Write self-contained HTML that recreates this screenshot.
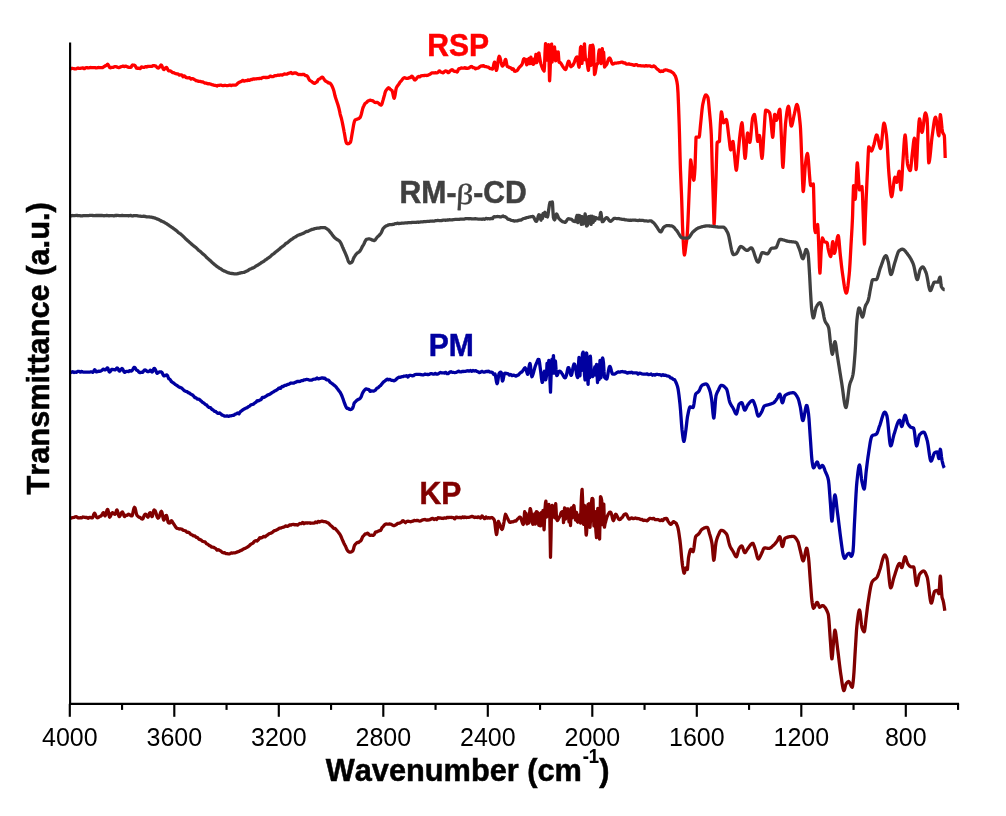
<!DOCTYPE html>
<html><head><meta charset="utf-8"><title>FTIR</title>
<style>
html,body{margin:0;padding:0;background:#fff;}
body{width:1006px;height:816px;overflow:hidden;font-family:"Liberation Sans",sans-serif;}
svg{display:block;}
text{font-family:"Liberation Sans",sans-serif;font-kerning:none;}
.c{fill:none;stroke-width:3.3;stroke-linejoin:round;stroke-linecap:butt;}
.ax line{stroke:#000;stroke-width:2.15;}
.tl text{font-size:25px;fill:#000;}
.b{font-weight:bold;}
.b text, text.b{stroke-width:0.5;}
</style></head><body>
<svg style="will-change:transform" width="1006" height="816" viewBox="0 0 1006 816">
<rect width="1006" height="816" fill="#fff"/>
<path class="c" stroke="#ff0000" d="M70.0 69.3 L70.5 68.9 L71.0 68.6 L71.5 68.4 L72.0 68.4 L72.5 68.4 L73.0 68.5 L73.5 68.6 L74.0 68.7 L74.5 68.8 L75.0 68.9 L75.5 68.9 L76.0 68.8 L76.5 68.7 L77.0 68.4 L77.5 68.1 L78.0 68.0 L78.5 68.2 L79.0 68.4 L79.5 68.4 L80.0 68.4 L80.5 68.3 L81.0 68.2 L81.5 68.1 L82.0 68.0 L82.5 68.0 L82.9 67.9 L83.0 67.9 L83.5 68.3 L84.0 68.6 L84.5 68.7 L85.0 68.3 L85.5 67.9 L86.0 67.8 L86.5 67.6 L87.0 67.6 L87.5 67.8 L88.0 67.9 L88.5 67.9 L89.0 67.8 L89.5 67.7 L90.0 67.6 L90.5 67.5 L91.0 67.5 L91.5 67.6 L92.0 67.7 L92.5 67.7 L93.0 67.6 L93.5 67.6 L93.6 67.6 L94.0 67.6 L94.5 67.6 L95.0 67.6 L95.5 67.8 L96.0 67.9 L96.5 67.8 L97.0 67.8 L97.5 67.7 L98.0 67.6 L98.5 67.5 L99.0 67.5 L99.5 67.6 L100.0 67.6 L100.5 67.6 L100.8 67.6 L101.0 67.6 L101.5 67.6 L102.0 67.7 L102.5 67.7 L103.0 67.3 L103.5 67.0 L104.0 66.7 L104.4 66.4 L104.5 66.4 L105.0 66.0 L105.5 65.7 L106.0 65.6 L106.5 65.3 L107.0 64.7 L107.5 64.4 L107.6 64.3 L108.0 64.5 L108.5 65.3 L109.0 66.2 L109.5 67.3 L109.7 67.5 L110.0 67.7 L110.5 67.8 L111.0 67.6 L111.5 67.3 L112.0 67.4 L112.5 67.4 L113.0 67.4 L113.5 67.2 L114.0 66.9 L114.5 66.8 L115.0 66.6 L115.1 66.6 L115.5 66.6 L116.0 66.7 L116.5 66.8 L117.0 67.0 L117.5 67.3 L118.0 67.5 L118.5 67.6 L118.7 67.6 L119.0 67.6 L119.5 67.5 L120.0 67.2 L120.5 66.9 L121.0 66.7 L121.5 66.6 L122.0 66.5 L122.3 66.4 L122.5 66.3 L123.0 66.1 L123.5 66.1 L124.0 66.4 L124.5 66.6 L125.0 66.5 L125.5 66.3 L126.0 66.1 L126.5 66.4 L127.0 66.7 L127.5 66.9 L128.0 67.1 L128.5 67.3 L129.0 67.3 L129.4 67.4 L129.5 67.4 L130.0 67.4 L130.5 67.3 L131.0 67.2 L131.5 66.5 L132.0 65.6 L132.5 65.0 L133.0 65.1 L133.5 65.2 L134.0 65.2 L134.5 65.2 L135.0 65.6 L135.5 66.4 L136.0 67.3 L136.5 68.1 L137.0 68.3 L137.2 68.3 L137.5 68.1 L138.0 68.1 L138.5 68.3 L139.0 68.4 L139.5 68.5 L140.0 68.6 L140.5 68.2 L141.0 67.5 L141.5 66.9 L142.0 67.0 L142.5 67.2 L143.0 67.3 L143.5 67.3 L143.7 67.4 L144.0 67.4 L144.5 67.2 L145.0 66.9 L145.5 66.6 L146.0 66.8 L146.5 67.0 L147.0 66.9 L147.5 66.6 L148.0 66.4 L148.5 66.4 L149.0 66.4 L149.5 66.4 L150.0 66.4 L150.5 66.3 L150.9 66.4 L151.0 66.4 L151.5 66.4 L152.0 66.3 L152.5 66.0 L153.0 65.7 L153.5 65.6 L154.0 65.6 L154.2 65.7 L154.5 65.8 L155.0 65.8 L155.5 65.8 L156.0 66.2 L156.5 66.8 L157.0 67.3 L157.5 67.8 L158.0 68.0 L158.5 68.0 L159.0 67.6 L159.5 67.1 L160.0 66.3 L160.5 65.6 L161.0 65.0 L161.4 65.1 L161.5 65.2 L162.0 66.1 L162.5 67.4 L163.0 68.5 L163.5 69.3 L163.8 69.5 L164.0 69.5 L164.5 69.2 L165.0 68.7 L165.5 68.0 L166.0 67.5 L166.4 67.4 L166.5 67.4 L167.0 68.0 L167.5 69.1 L168.0 70.0 L168.5 70.6 L168.8 70.8 L169.0 70.9 L169.5 70.8 L170.0 70.8 L170.5 71.0 L171.0 71.3 L171.5 71.6 L172.0 72.1 L172.5 72.6 L173.0 72.7 L173.5 72.7 L174.0 72.7 L174.5 73.1 L175.0 73.4 L175.5 73.7 L175.9 73.7 L176.0 73.7 L176.5 73.8 L177.0 73.8 L177.5 73.8 L178.0 74.0 L178.5 74.4 L179.0 74.9 L179.5 75.1 L180.0 74.9 L180.5 74.8 L180.6 74.8 L181.0 74.8 L181.5 74.8 L182.0 75.1 L182.5 75.9 L183.0 76.8 L183.5 76.6 L184.0 76.1 L184.5 75.9 L185.0 76.4 L185.5 77.0 L186.0 77.4 L186.5 77.6 L187.0 77.8 L187.5 77.8 L188.0 77.9 L188.5 77.9 L189.0 77.7 L189.5 77.6 L190.0 78.1 L190.5 78.6 L191.0 79.1 L191.5 78.8 L192.0 78.6 L192.5 78.6 L193.0 78.8 L193.5 79.0 L194.0 79.3 L194.1 79.3 L194.5 79.6 L195.0 79.9 L195.5 80.2 L196.0 80.6 L196.5 80.7 L197.0 80.8 L197.5 80.9 L198.0 81.1 L198.5 81.4 L199.0 81.4 L199.5 81.4 L200.0 81.3 L200.5 81.5 L201.0 81.7 L201.5 81.8 L202.0 81.8 L202.5 81.8 L203.0 82.0 L203.5 82.3 L204.0 82.6 L204.5 82.9 L205.0 83.1 L205.5 83.2 L206.0 83.2 L206.5 83.2 L207.0 83.5 L207.5 83.7 L207.6 83.7 L208.0 83.8 L208.5 83.8 L209.0 83.7 L209.5 83.8 L210.0 84.0 L210.5 84.1 L211.0 84.3 L211.5 84.5 L212.0 84.7 L212.5 84.8 L213.0 84.8 L213.5 85.0 L214.0 85.2 L214.5 85.4 L215.0 85.4 L215.5 85.3 L216.0 85.6 L216.1 85.6 L216.5 85.8 L217.0 86.0 L217.5 85.7 L218.0 85.4 L218.5 85.3 L219.0 85.3 L219.5 85.3 L220.0 85.2 L220.5 85.1 L221.0 85.1 L221.5 85.3 L222.0 85.5 L222.5 85.6 L223.0 85.7 L223.5 85.7 L224.0 85.5 L224.5 85.3 L225.0 85.3 L225.5 85.4 L226.0 85.5 L226.5 85.6 L227.0 85.7 L227.5 85.7 L228.0 85.5 L228.5 85.4 L229.0 85.3 L229.5 85.2 L230.0 85.1 L230.5 85.3 L231.0 85.5 L231.5 85.5 L232.0 85.3 L232.5 85.1 L233.0 85.1 L233.5 85.1 L234.0 85.1 L234.5 85.2 L234.7 85.2 L235.0 85.2 L235.5 85.1 L236.0 84.9 L236.5 84.6 L237.0 84.1 L237.5 83.5 L238.0 83.1 L238.5 82.7 L239.0 82.4 L239.5 82.2 L240.0 82.0 L240.5 81.8 L241.0 81.5 L241.4 81.4 L241.5 81.3 L242.0 81.0 L242.5 80.6 L243.0 80.4 L243.5 80.8 L244.0 81.2 L244.5 81.2 L245.0 80.9 L245.5 80.6 L246.0 80.7 L246.5 80.7 L247.0 80.6 L247.5 80.2 L248.0 79.8 L248.2 79.8 L248.5 80.0 L249.0 80.3 L249.5 80.4 L250.0 80.1 L250.5 79.7 L251.0 79.5 L251.5 79.5 L252.0 79.5 L252.5 79.2 L253.0 79.0 L253.5 78.8 L254.0 78.9 L254.5 79.1 L255.0 79.0 L255.5 78.9 L256.0 78.8 L256.5 78.8 L257.0 78.7 L257.5 78.7 L258.0 78.7 L258.5 78.7 L259.0 78.6 L259.5 78.4 L260.0 78.4 L260.5 78.4 L261.0 78.5 L261.5 78.2 L261.7 78.1 L262.0 77.9 L262.5 77.7 L263.0 77.5 L263.5 77.3 L264.0 77.3 L264.5 77.4 L265.0 77.5 L265.5 77.5 L266.0 77.5 L266.5 77.5 L267.0 77.5 L267.5 77.5 L268.0 77.4 L268.5 77.3 L269.0 77.1 L269.5 76.6 L270.0 76.1 L270.5 76.1 L271.0 76.3 L271.5 76.6 L272.0 76.7 L272.5 76.7 L273.0 76.7 L273.5 76.4 L274.0 76.1 L274.5 75.9 L275.0 75.7 L275.2 75.6 L275.5 75.6 L276.0 75.6 L276.5 75.6 L277.0 75.5 L277.5 75.3 L278.0 75.1 L278.5 75.2 L279.0 75.3 L279.5 75.2 L280.0 75.0 L280.5 74.9 L281.0 74.9 L281.5 75.0 L282.0 75.1 L282.5 74.9 L283.0 74.7 L283.5 74.4 L283.7 74.3 L284.0 74.2 L284.5 73.9 L285.0 74.0 L285.5 74.1 L286.0 74.2 L286.5 74.1 L287.0 74.1 L287.5 73.8 L288.0 73.5 L288.5 73.3 L289.0 73.2 L289.5 73.2 L290.0 73.0 L290.5 72.7 L291.0 72.4 L291.3 72.7 L291.5 72.9 L292.0 73.4 L292.5 73.6 L293.0 73.4 L293.5 73.2 L294.0 73.1 L294.5 72.9 L295.0 72.8 L295.5 72.9 L296.0 73.1 L296.5 73.3 L297.0 73.7 L297.5 74.0 L298.0 74.2 L298.5 74.5 L298.9 74.6 L299.0 74.6 L299.5 74.5 L300.0 74.4 L300.5 74.5 L301.0 74.7 L301.5 74.7 L302.0 74.6 L302.5 74.4 L303.0 74.3 L303.5 74.4 L304.0 74.4 L304.5 74.8 L305.0 75.3 L305.5 75.6 L306.0 75.6 L306.5 75.7 L307.0 75.9 L307.5 76.4 L308.0 77.2 L308.5 78.3 L309.0 79.4 L309.5 80.1 L310.0 80.5 L310.5 80.7 L310.7 80.9 L311.0 81.1 L311.5 81.4 L312.0 81.8 L312.5 82.3 L313.0 82.7 L313.5 83.0 L314.0 83.2 L314.5 83.4 L314.9 83.2 L315.0 83.1 L315.5 82.7 L316.0 82.4 L316.5 82.2 L317.0 81.9 L317.5 80.9 L318.0 80.0 L318.5 79.4 L319.0 79.1 L319.1 79.1 L319.5 79.0 L320.0 78.6 L320.5 78.3 L321.0 77.9 L321.5 77.5 L322.0 77.2 L322.4 77.2 L322.5 77.2 L323.0 77.7 L323.5 78.4 L324.0 79.1 L324.5 79.9 L325.0 80.6 L325.5 81.0 L326.0 81.3 L326.2 81.4 L326.5 81.6 L327.0 81.9 L327.5 82.1 L328.0 82.5 L328.5 83.0 L329.0 83.1 L329.2 83.1 L329.5 83.0 L330.0 83.1 L330.5 83.6 L331.0 84.3 L331.5 85.1 L332.0 86.0 L332.2 86.4 L332.5 87.1 L333.0 88.3 L333.5 89.7 L334.0 91.4 L334.5 93.6 L335.0 95.8 L335.5 97.6 L335.8 98.5 L336.0 99.1 L336.5 100.6 L337.0 102.1 L337.5 103.5 L338.0 105.1 L338.5 106.8 L339.0 108.6 L339.5 110.8 L340.0 113.3 L340.5 115.5 L340.6 115.8 L341.0 117.1 L341.5 118.8 L342.0 121.0 L342.5 123.4 L343.0 125.9 L343.5 128.5 L344.0 131.1 L344.1 131.7 L344.5 133.8 L345.0 136.8 L345.5 139.7 L346.0 141.9 L346.5 143.0 L347.0 143.5 L347.5 143.7 L348.0 143.8 L348.3 143.7 L348.5 143.7 L349.0 143.5 L349.5 143.0 L350.0 142.8 L350.1 142.8 L350.5 142.1 L351.0 140.1 L351.5 137.3 L352.0 134.2 L352.5 131.4 L353.0 128.5 L353.5 125.4 L354.0 123.0 L354.5 121.2 L355.0 120.1 L355.1 120.0 L355.5 119.8 L356.0 119.7 L356.5 119.4 L357.0 119.2 L357.5 119.0 L357.9 118.9 L358.0 118.9 L358.5 118.6 L359.0 118.4 L359.5 118.0 L360.0 117.6 L360.2 117.3 L360.5 116.7 L361.0 115.3 L361.5 113.5 L362.0 111.4 L362.5 109.3 L363.0 107.7 L363.5 106.5 L363.8 106.0 L364.0 105.6 L364.5 104.5 L365.0 103.6 L365.5 103.2 L366.0 102.9 L366.5 102.6 L366.8 102.2 L367.0 102.0 L367.5 101.3 L368.0 101.0 L368.5 100.8 L369.0 100.7 L369.5 100.4 L370.0 100.2 L370.5 100.2 L371.0 100.4 L371.3 100.5 L371.5 100.7 L372.0 100.7 L372.5 100.7 L373.0 100.9 L373.5 101.4 L374.0 101.9 L374.5 102.2 L374.6 102.2 L375.0 102.4 L375.5 102.5 L376.0 102.5 L376.5 102.4 L377.0 102.4 L377.5 102.6 L378.0 102.8 L378.5 103.2 L379.0 103.7 L379.5 104.3 L380.0 104.6 L380.5 104.9 L380.9 105.1 L381.0 105.1 L381.5 104.7 L382.0 103.7 L382.5 102.0 L382.9 100.6 L383.0 100.3 L383.5 98.5 L384.0 96.8 L384.5 95.0 L385.0 92.9 L385.5 91.3 L385.9 90.6 L386.0 90.5 L386.5 89.8 L387.0 89.2 L387.5 88.6 L388.0 88.1 L388.5 87.7 L388.9 88.0 L389.0 88.0 L389.5 88.5 L390.0 89.0 L390.5 89.4 L391.0 89.9 L391.5 90.2 L391.9 90.4 L392.0 90.5 L392.5 91.8 L393.0 94.3 L393.5 96.7 L394.0 98.1 L394.2 98.2 L394.5 97.7 L395.0 95.5 L395.5 92.3 L396.0 89.3 L396.4 87.7 L396.5 87.5 L397.0 86.7 L397.5 85.9 L398.0 85.2 L398.5 84.5 L399.0 83.9 L399.5 83.0 L400.0 82.2 L400.2 81.9 L400.5 81.6 L401.0 81.1 L401.5 80.6 L402.0 79.9 L402.5 79.2 L403.0 78.6 L403.5 78.1 L404.0 77.8 L404.5 77.7 L404.8 77.8 L405.0 77.8 L405.5 78.0 L406.0 78.2 L406.5 78.4 L407.0 78.4 L407.5 78.4 L408.0 78.3 L408.5 78.1 L408.6 78.1 L409.0 77.8 L409.5 77.5 L410.0 77.6 L410.5 77.6 L411.0 77.0 L411.5 76.4 L411.9 76.1 L412.0 76.1 L412.5 76.6 L413.0 77.4 L413.5 78.2 L414.0 79.1 L414.5 79.9 L415.0 80.0 L415.3 79.9 L415.5 79.7 L416.0 79.2 L416.5 78.5 L417.0 77.8 L417.5 77.2 L418.0 76.7 L418.5 76.5 L419.0 76.7 L419.5 76.9 L420.0 76.7 L420.5 76.3 L421.0 75.9 L421.5 75.8 L422.0 75.7 L422.5 75.7 L423.0 75.7 L423.5 75.7 L423.9 75.6 L424.0 75.6 L424.5 75.4 L425.0 75.4 L425.5 75.4 L426.0 75.4 L426.5 75.5 L427.0 75.5 L427.5 75.4 L428.0 75.2 L428.5 74.9 L428.6 74.8 L429.0 74.7 L429.5 74.5 L430.0 74.3 L430.5 73.9 L431.0 73.5 L431.5 73.2 L432.0 72.9 L432.2 72.8 L432.5 72.8 L433.0 72.8 L433.5 72.9 L434.0 73.0 L434.5 72.9 L435.0 72.8 L435.5 72.7 L436.0 72.8 L436.5 72.8 L437.0 72.8 L437.5 72.7 L438.0 72.4 L438.5 71.7 L439.0 71.1 L439.4 70.9 L439.5 70.9 L440.0 71.3 L440.5 71.8 L441.0 72.1 L441.5 72.3 L441.8 72.3 L442.0 72.4 L442.5 72.7 L443.0 72.8 L443.5 72.5 L444.0 72.0 L444.5 71.5 L445.0 71.3 L445.5 71.0 L446.0 71.0 L446.5 71.1 L447.0 71.5 L447.5 72.1 L448.0 72.6 L448.3 72.7 L448.5 72.6 L449.0 72.2 L449.5 71.5 L450.0 71.0 L450.5 70.6 L451.0 70.3 L451.3 70.0 L451.5 69.9 L452.0 69.7 L452.5 69.9 L453.0 70.4 L453.5 70.9 L454.0 71.1 L454.5 71.4 L455.0 71.5 L455.5 71.4 L456.0 71.3 L456.5 71.7 L456.7 71.9 L457.0 72.0 L457.5 71.7 L458.0 70.4 L458.5 69.2 L459.0 68.6 L459.5 68.7 L460.0 68.7 L460.5 68.3 L461.0 68.0 L461.5 67.9 L462.0 68.0 L462.5 68.1 L463.0 68.1 L463.5 68.1 L464.0 68.1 L464.4 67.8 L464.5 67.7 L465.0 67.7 L465.5 68.0 L466.0 68.3 L466.2 68.3 L466.5 68.2 L467.0 68.3 L467.5 68.3 L468.0 68.3 L468.5 68.1 L469.0 68.0 L469.5 67.6 L470.0 67.1 L470.5 66.8 L471.0 66.6 L471.5 66.5 L471.6 66.5 L472.0 66.6 L472.5 67.1 L473.0 67.7 L473.5 67.7 L474.0 67.7 L474.5 67.9 L475.0 68.4 L475.2 68.6 L475.5 68.8 L476.0 68.7 L476.5 68.4 L477.0 68.2 L477.5 68.2 L478.0 68.2 L478.5 67.9 L479.0 67.5 L479.5 67.0 L480.0 66.7 L480.5 66.2 L481.0 66.0 L481.5 66.0 L482.0 66.2 L482.3 66.1 L482.5 66.0 L483.0 65.7 L483.5 65.6 L484.0 66.0 L484.5 66.5 L485.0 66.6 L485.5 66.6 L486.0 66.6 L486.5 66.8 L487.0 67.0 L487.5 67.1 L488.0 67.2 L488.3 67.2 L488.5 67.2 L489.0 67.7 L489.5 68.2 L490.0 68.7 L490.5 68.6 L491.0 68.6 L491.5 68.7 L492.0 68.9 L492.5 69.1 L493.0 68.1 L493.5 65.8 L494.0 63.4 L494.5 62.1 L495.0 63.1 L495.5 66.2 L496.0 69.2 L496.4 70.4 L496.5 70.3 L497.0 68.7 L497.5 65.5 L498.0 61.8 L498.5 58.6 L499.0 56.6 L499.2 56.3 L499.5 56.5 L500.0 57.6 L500.5 59.6 L501.0 61.9 L501.5 63.9 L502.0 65.5 L502.3 65.9 L502.5 66.0 L503.0 65.7 L503.5 64.9 L504.0 63.9 L504.5 62.3 L505.0 60.5 L505.5 59.3 L505.6 59.3 L506.0 60.4 L506.5 63.1 L507.0 65.7 L507.4 66.5 L507.5 66.5 L508.0 66.5 L508.5 66.9 L509.0 67.3 L509.5 67.6 L510.0 67.7 L510.5 67.7 L510.9 67.9 L511.0 68.0 L511.5 68.6 L512.0 69.3 L512.5 69.0 L513.0 68.7 L513.5 69.1 L514.0 70.2 L514.5 71.1 L515.0 71.3 L515.1 71.3 L515.5 71.2 L516.0 71.0 L516.5 70.8 L517.0 70.6 L517.5 70.1 L518.0 69.3 L518.5 68.5 L519.0 67.8 L519.5 67.2 L520.0 66.6 L520.3 66.4 L520.5 66.3 L521.0 65.7 L521.5 65.1 L522.0 64.3 L522.5 63.3 L523.0 61.2 L523.5 59.3 L524.0 58.7 L524.5 59.0 L524.7 59.2 L525.0 59.7 L525.5 60.5 L525.8 61.2 L526.0 61.8 L526.5 64.3 L526.7 64.7 L527.0 62.6 L527.4 59.3 L527.5 59.4 L528.0 62.6 L528.3 63.7 L528.5 63.0 L529.0 59.2 L529.2 58.5 L529.5 60.2 L530.0 63.5 L530.0 63.5 L530.5 59.5 L530.9 57.2 L531.0 57.3 L531.5 60.6 L531.7 62.1 L532.0 63.0 L532.2 63.5 L532.5 63.8 L533.0 64.2 L533.4 64.3 L533.5 64.2 L534.0 60.4 L534.3 58.9 L534.5 59.6 L535.0 62.9 L535.0 62.9 L535.5 58.3 L535.9 54.4 L536.0 54.7 L536.5 60.4 L536.8 62.6 L537.0 61.9 L537.5 56.7 L537.6 55.7 L538.0 54.7 L538.5 53.4 L538.9 53.0 L539.0 53.2 L539.4 56.2 L539.5 56.6 L540.0 59.5 L540.5 62.2 L541.0 64.2 L541.1 64.5 L541.5 65.7 L542.0 67.2 L542.5 68.4 L543.0 69.4 L543.5 70.3 L544.0 70.9 L544.1 71.0 L544.5 66.4 L545.0 53.4 L545.5 44.0 L545.6 43.6 L546.0 46.3 L546.1 47.5 L546.5 54.5 L546.9 60.2 L547.0 60.1 L547.5 52.3 L547.8 47.7 L548.0 46.8 L548.5 44.9 L548.6 44.7 L549.0 57.4 L549.5 79.8 L549.6 80.8 L550.0 73.8 L550.5 59.8 L550.5 59.5 L551.0 50.8 L551.5 44.3 L551.6 44.1 L552.0 60.2 L552.1 62.1 L552.5 56.6 L553.0 49.1 L553.0 49.1 L553.5 55.0 L553.9 59.2 L554.0 58.4 L554.5 47.0 L555.0 53.1 L555.5 60.5 L555.6 60.8 L556.0 56.2 L556.4 52.0 L556.5 52.1 L557.0 52.6 L557.5 53.0 L558.0 52.2 L558.2 52.0 L558.5 55.6 L559.0 62.2 L559.0 62.2 L559.5 62.4 L559.8 62.4 L560.0 62.5 L560.5 62.9 L561.0 63.5 L561.5 64.2 L562.0 65.1 L562.5 66.0 L563.0 66.8 L563.5 67.5 L564.0 68.1 L564.5 68.8 L565.0 69.3 L565.5 69.5 L565.7 69.4 L566.0 69.1 L566.5 67.6 L567.0 65.8 L567.5 64.0 L568.0 62.3 L568.5 61.3 L568.7 61.2 L569.0 61.5 L569.5 62.9 L570.0 64.7 L570.5 66.2 L571.0 66.8 L571.5 66.3 L572.0 65.9 L572.5 65.6 L573.0 65.1 L573.5 64.1 L574.0 63.0 L574.5 61.8 L575.0 60.3 L575.5 59.0 L576.0 57.9 L576.5 57.2 L576.9 56.8 L577.0 56.8 L577.5 58.8 L578.0 62.0 L578.5 65.2 L579.0 67.1 L579.1 67.2 L579.5 64.2 L580.0 54.9 L580.5 47.7 L580.6 47.2 L581.0 46.6 L581.2 46.8 L581.5 53.3 L582.0 63.4 L582.0 63.4 L582.5 52.6 L582.8 48.4 L583.0 50.0 L583.5 58.4 L583.7 59.8 L584.0 53.5 L584.4 43.8 L584.5 44.1 L585.0 52.8 L585.5 59.6 L585.5 59.6 L586.0 60.0 L586.5 59.7 L586.6 59.7 L587.0 61.5 L587.3 64.0 L587.5 65.0 L588.0 68.7 L588.4 70.3 L588.5 70.0 L589.0 62.8 L589.1 60.9 L589.5 55.1 L590.0 47.5 L590.3 45.6 L590.5 50.4 L590.9 65.4 L591.0 65.0 L591.5 54.2 L591.7 50.1 L592.0 47.9 L592.5 45.3 L592.6 45.1 L593.0 46.1 L593.5 49.2 L593.5 49.4 L594.0 63.2 L594.5 74.5 L595.0 73.7 L595.5 71.3 L596.0 68.2 L596.5 65.2 L597.0 64.0 L597.5 63.8 L597.7 63.6 L598.0 61.5 L598.5 55.1 L598.6 54.1 L599.0 51.0 L599.3 49.9 L599.5 49.9 L600.0 51.0 L600.4 52.4 L600.5 53.9 L601.0 63.2 L601.1 63.7 L601.5 59.9 L602.0 51.0 L602.3 48.6 L602.5 51.8 L602.9 61.0 L603.0 60.7 L603.5 52.9 L603.6 52.1 L604.0 57.8 L604.5 67.0 L605.0 66.5 L605.5 65.7 L606.0 65.3 L606.5 64.6 L607.0 63.7 L607.5 62.0 L608.0 60.4 L608.5 59.2 L609.0 58.4 L609.5 58.0 L609.7 58.1 L610.0 58.3 L610.5 59.2 L611.0 60.6 L611.5 62.0 L612.0 63.3 L612.5 64.0 L612.7 64.1 L613.0 64.0 L613.5 63.9 L614.0 63.6 L614.5 63.3 L615.0 63.1 L615.5 63.2 L616.0 63.2 L616.5 63.1 L617.0 63.0 L617.5 62.9 L618.0 62.8 L618.5 62.8 L619.0 62.7 L619.5 62.7 L620.0 62.6 L620.2 62.5 L620.5 62.4 L621.0 62.2 L621.5 62.2 L622.0 62.2 L622.5 62.2 L623.0 62.5 L623.5 62.9 L624.0 63.0 L624.5 63.0 L625.0 62.9 L625.5 63.3 L626.0 63.8 L626.5 64.2 L627.0 64.2 L627.5 64.1 L628.0 64.0 L628.5 64.0 L629.0 63.9 L629.5 64.1 L630.0 64.3 L630.5 64.4 L631.0 64.5 L631.5 64.5 L632.0 64.6 L632.5 64.7 L633.0 64.9 L633.5 65.1 L634.0 65.4 L634.5 65.3 L635.0 65.0 L635.5 64.7 L636.0 64.7 L636.5 64.7 L636.9 64.7 L637.0 64.8 L637.5 65.2 L638.0 65.6 L638.5 65.6 L639.0 65.6 L639.5 65.6 L640.0 65.6 L640.5 65.7 L641.0 65.8 L641.5 65.9 L642.0 65.9 L642.5 65.9 L643.0 65.8 L643.5 65.8 L644.0 66.0 L644.5 66.2 L645.0 66.0 L645.5 65.8 L646.0 65.6 L646.5 65.8 L647.0 66.0 L647.5 66.0 L648.0 65.9 L648.5 65.8 L649.0 65.8 L649.5 65.8 L650.0 65.9 L650.5 66.2 L651.0 66.5 L651.5 66.6 L652.0 66.7 L652.5 66.7 L653.0 66.3 L653.5 66.0 L653.8 65.9 L654.0 66.0 L654.5 66.3 L655.0 66.7 L655.5 67.2 L656.0 67.8 L656.5 68.3 L657.0 68.8 L657.5 69.3 L658.0 69.7 L658.5 70.0 L659.0 70.4 L659.5 71.0 L660.0 71.5 L660.5 71.6 L660.6 71.6 L661.0 71.4 L661.5 70.9 L662.0 71.2 L662.5 71.4 L663.0 71.4 L663.5 70.8 L664.0 70.3 L664.5 70.1 L665.0 70.0 L665.5 70.0 L665.6 69.9 L666.0 69.9 L666.5 70.0 L667.0 70.1 L667.5 70.3 L668.0 70.5 L668.5 70.7 L669.0 70.8 L669.5 71.0 L670.0 71.0 L670.5 71.1 L671.0 71.5 L671.5 71.9 L672.0 72.3 L672.5 72.5 L673.0 72.8 L673.5 73.3 L674.0 74.0 L674.1 74.2 L674.5 74.9 L675.0 75.5 L675.5 76.4 L676.0 78.0 L676.5 79.8 L677.0 82.2 L677.5 85.6 L678.0 92.8 L678.5 104.6 L679.0 118.7 L679.2 124.5 L679.5 134.7 L680.0 154.6 L680.3 165.0 L680.5 170.7 L681.0 183.0 L681.5 194.8 L681.7 200.0 L682.0 209.1 L682.5 225.2 L682.8 232.6 L683.0 236.5 L683.5 246.0 L684.0 253.0 L684.4 255.0 L684.5 254.9 L685.0 252.8 L685.5 248.9 L686.0 245.0 L686.5 241.8 L687.0 237.7 L687.5 230.6 L688.0 220.3 L688.5 208.2 L689.0 195.7 L689.5 184.0 L689.6 181.9 L690.0 172.0 L690.5 161.3 L690.7 160.0 L691.0 161.1 L691.5 165.0 L692.0 168.8 L692.5 173.2 L693.0 177.1 L693.5 179.7 L693.8 180.2 L694.0 179.7 L694.5 175.1 L695.0 168.0 L695.5 152.5 L696.0 137.8 L696.1 137.2 L696.5 137.2 L697.0 137.2 L697.5 137.2 L698.0 137.2 L698.5 137.2 L699.0 137.2 L699.1 137.2 L699.5 135.5 L700.0 130.4 L700.5 125.0 L701.0 120.2 L701.5 114.9 L702.0 110.0 L702.5 105.9 L702.8 104.2 L703.0 103.3 L703.5 101.1 L704.0 99.0 L704.5 97.3 L705.0 95.9 L705.5 95.1 L705.9 94.9 L706.0 94.9 L706.5 95.2 L707.0 95.8 L707.5 96.6 L707.9 97.5 L708.0 97.8 L708.5 101.2 L709.0 106.4 L709.5 112.0 L710.0 117.1 L710.5 122.5 L711.0 129.4 L711.3 134.7 L711.5 139.8 L712.0 158.8 L712.3 170.0 L712.5 176.3 L713.0 191.1 L713.3 200.0 L713.5 207.2 L714.0 223.8 L714.1 224.5 L714.5 218.7 L715.0 205.0 L715.5 192.0 L716.0 178.0 L716.5 159.9 L717.0 144.3 L717.2 142.3 L717.5 142.1 L718.0 141.9 L718.5 141.8 L719.0 141.7 L719.4 141.4 L719.5 140.9 L720.0 131.1 L720.3 125.0 L720.5 121.9 L721.0 114.4 L721.4 111.8 L721.5 111.9 L722.0 114.0 L722.5 117.7 L723.0 121.2 L723.5 122.8 L724.0 122.5 L724.5 121.8 L725.0 120.9 L725.5 120.1 L726.0 119.6 L726.2 119.5 L726.5 119.9 L727.0 122.1 L727.5 125.6 L728.0 129.8 L728.5 134.1 L729.0 138.0 L729.5 142.2 L730.0 146.7 L730.5 149.6 L730.7 149.9 L731.0 149.5 L731.5 147.3 L732.0 144.5 L732.5 142.1 L732.9 141.4 L733.0 141.5 L733.5 144.5 L734.0 149.8 L734.5 155.0 L735.0 160.1 L735.5 165.5 L736.0 169.4 L736.3 170.2 L736.5 169.8 L737.0 166.2 L737.5 160.5 L738.0 155.0 L738.5 149.9 L739.0 144.4 L739.5 139.1 L740.0 134.7 L740.5 130.7 L741.0 126.9 L741.5 124.0 L742.0 122.8 L742.5 126.0 L743.0 133.0 L743.5 140.0 L744.0 147.0 L744.5 154.1 L745.0 158.2 L745.1 158.3 L745.5 156.6 L746.0 150.8 L746.5 143.4 L747.0 136.7 L747.5 133.1 L747.6 133.0 L748.0 133.8 L748.5 136.4 L749.0 139.5 L749.5 141.8 L749.8 142.3 L750.0 142.0 L750.5 139.1 L751.0 134.1 L751.5 128.2 L752.0 122.6 L752.5 118.7 L752.7 117.8 L753.0 116.9 L753.5 115.6 L754.0 114.7 L754.4 114.4 L754.5 114.5 L755.0 116.7 L755.5 120.7 L756.0 125.0 L756.5 130.1 L757.0 136.1 L757.5 140.5 L757.8 141.4 L758.0 141.2 L758.5 139.2 L759.0 136.7 L759.5 135.5 L760.0 137.9 L760.5 143.5 L761.0 150.3 L761.5 155.9 L762.0 158.3 L762.5 155.4 L763.0 148.4 L763.5 139.8 L764.0 132.0 L764.5 124.2 L765.0 116.0 L765.5 110.8 L765.7 110.2 L766.0 110.2 L766.5 110.3 L767.0 110.5 L767.5 110.7 L768.0 111.0 L768.5 111.5 L769.0 112.0 L769.5 112.6 L769.6 112.7 L770.0 114.2 L770.5 117.9 L771.0 122.0 L771.5 127.1 L772.0 132.9 L772.5 136.8 L772.7 137.2 L773.0 135.8 L773.5 129.2 L774.0 120.8 L774.5 115.0 L774.7 114.4 L775.0 114.9 L775.5 117.1 L776.0 119.5 L776.4 120.3 L776.5 120.3 L777.0 119.4 L777.5 117.6 L778.0 115.3 L778.5 112.9 L779.0 110.8 L779.5 109.5 L779.8 109.3 L780.0 110.1 L780.5 117.6 L781.0 128.8 L781.3 135.0 L781.5 139.2 L782.0 152.3 L782.5 163.7 L782.9 167.4 L783.0 167.2 L783.5 161.0 L784.0 150.7 L784.3 145.0 L784.5 141.5 L785.0 131.9 L785.5 124.0 L785.6 123.0 L786.0 119.4 L786.5 115.2 L787.0 111.6 L787.5 108.8 L788.0 107.0 L788.5 106.3 L789.0 108.0 L789.5 112.0 L790.0 117.2 L790.5 122.1 L791.0 125.4 L791.3 126.0 L791.5 125.9 L792.0 124.9 L792.5 123.0 L793.0 120.6 L793.5 118.0 L794.0 115.5 L794.4 113.8 L794.5 113.4 L795.0 111.1 L795.5 108.7 L796.0 106.5 L796.5 104.9 L796.9 104.5 L797.0 104.5 L797.5 105.3 L798.0 107.2 L798.5 109.9 L799.0 113.5 L799.5 117.7 L800.0 122.5 L800.3 125.6 L800.5 128.3 L801.0 139.2 L801.5 152.6 L801.8 160.0 L802.0 165.1 L802.5 179.8 L803.0 190.4 L803.2 191.6 L803.5 190.5 L804.0 184.9 L804.5 176.8 L805.0 168.9 L805.4 164.5 L805.5 163.7 L806.0 159.9 L806.5 156.5 L807.0 154.2 L807.4 153.5 L807.5 153.6 L808.0 156.2 L808.5 161.4 L809.0 168.2 L809.5 175.2 L810.0 181.2 L810.5 185.0 L810.8 185.7 L811.0 185.7 L811.5 185.4 L812.0 184.9 L812.5 184.4 L813.0 184.1 L813.3 184.0 L813.5 186.8 L814.0 205.0 L814.5 226.1 L814.6 228.0 L815.0 231.0 L815.5 232.5 L816.0 231.7 L816.5 230.0 L817.0 227.1 L817.5 224.6 L817.6 224.5 L818.0 228.7 L818.5 239.9 L818.6 242.0 L819.0 252.9 L819.5 267.9 L819.9 273.2 L820.0 272.9 L820.5 264.8 L821.0 253.3 L821.2 250.0 L821.5 246.0 L822.0 240.0 L822.4 238.0 L822.5 238.0 L823.0 238.8 L823.5 240.2 L824.0 241.4 L824.2 241.6 L824.5 241.8 L825.0 242.0 L825.5 242.1 L826.0 242.2 L826.5 242.4 L827.0 242.7 L827.1 242.8 L827.5 244.3 L828.0 247.7 L828.3 249.4 L828.5 250.2 L829.0 252.3 L829.5 254.1 L830.0 255.6 L830.5 256.4 L830.7 256.5 L831.0 255.7 L831.5 251.7 L832.0 246.4 L832.5 242.4 L832.8 241.6 L833.0 242.2 L833.5 246.9 L834.0 252.2 L834.3 253.4 L834.5 253.3 L835.0 251.9 L835.5 249.4 L836.0 246.2 L836.5 242.8 L837.0 239.6 L837.5 237.1 L838.0 235.7 L838.2 235.6 L838.5 236.3 L839.0 240.2 L839.5 246.0 L840.0 252.0 L840.3 255.0 L840.5 256.8 L841.0 261.3 L841.5 265.8 L842.0 269.9 L842.4 272.8 L842.5 273.5 L843.0 276.9 L843.5 280.5 L844.0 283.9 L844.5 287.1 L845.0 289.7 L845.5 291.7 L846.0 292.9 L846.3 293.1 L846.5 293.0 L847.0 291.6 L847.5 289.0 L848.0 285.4 L848.5 281.1 L849.0 276.4 L849.2 274.5 L849.5 271.1 L850.0 263.3 L850.5 254.1 L851.0 245.0 L851.5 236.6 L852.0 228.0 L852.5 217.8 L852.6 215.4 L853.0 200.0 L853.5 185.7 L854.0 188.5 L854.5 194.2 L855.0 198.7 L855.2 199.2 L855.5 197.2 L856.0 187.4 L856.5 174.6 L857.0 164.8 L857.3 162.8 L857.5 163.4 L858.0 169.3 L858.5 178.2 L859.0 186.3 L859.5 189.9 L860.0 189.5 L860.5 188.7 L861.0 187.7 L861.5 186.9 L862.0 186.5 L862.5 194.3 L863.0 209.6 L863.2 215.0 L863.5 223.6 L864.0 238.7 L864.4 244.1 L864.5 243.5 L865.0 229.6 L865.3 220.0 L865.5 215.0 L866.0 202.9 L866.2 198.3 L866.5 191.4 L867.0 180.3 L867.5 170.0 L868.0 158.6 L868.5 148.9 L868.8 146.8 L869.0 146.9 L869.5 147.6 L870.0 148.8 L870.5 150.0 L871.0 150.8 L871.3 151.0 L871.5 150.9 L872.0 150.3 L872.5 149.1 L873.0 147.6 L873.5 146.0 L873.8 145.1 L874.0 144.5 L874.5 142.5 L875.0 140.2 L875.5 137.9 L876.0 136.1 L876.5 135.1 L876.7 135.0 L877.0 135.2 L877.5 136.5 L878.0 138.5 L878.5 141.0 L879.0 143.5 L879.5 145.9 L880.0 147.6 L880.5 148.5 L880.6 148.5 L881.0 147.5 L881.5 144.1 L882.0 139.1 L882.5 133.6 L883.0 128.4 L883.5 124.6 L884.0 123.1 L884.5 123.8 L885.0 125.7 L885.5 128.6 L886.0 132.0 L886.5 135.8 L887.0 141.4 L887.5 149.6 L888.0 158.9 L888.5 167.8 L889.0 174.7 L889.5 180.4 L890.0 186.1 L890.5 191.2 L891.0 194.9 L891.5 196.6 L891.6 196.7 L892.0 196.0 L892.5 193.3 L893.0 189.5 L893.5 185.2 L894.0 181.3 L894.5 178.3 L895.0 177.2 L895.5 178.3 L896.0 180.4 L896.5 182.1 L896.7 182.3 L897.0 181.9 L897.5 179.6 L898.0 176.5 L898.5 173.4 L899.0 171.5 L899.2 171.3 L899.5 172.8 L900.0 179.8 L900.5 187.3 L900.9 189.9 L901.0 189.8 L901.5 185.6 L902.0 177.4 L902.5 168.0 L903.0 160.0 L903.5 152.7 L904.0 144.8 L904.5 138.4 L905.0 135.1 L905.1 135.0 L905.5 136.8 L906.0 142.9 L906.5 151.1 L907.0 158.9 L907.5 164.0 L907.6 164.5 L908.0 166.0 L908.5 167.7 L909.0 169.0 L909.5 170.0 L910.0 170.5 L910.2 170.5 L910.5 169.9 L911.0 166.6 L911.5 161.6 L912.0 156.3 L912.4 152.7 L912.5 151.9 L913.0 147.4 L913.5 142.7 L914.0 139.3 L914.4 138.3 L914.5 138.6 L915.0 147.2 L915.5 160.7 L916.0 169.3 L916.1 169.6 L916.5 166.5 L917.0 156.7 L917.5 145.4 L917.8 140.0 L918.0 136.9 L918.5 128.7 L919.0 121.8 L919.5 118.9 L920.0 120.3 L920.5 123.7 L921.0 127.6 L921.5 131.0 L922.0 132.4 L922.5 131.3 L923.0 128.4 L923.5 124.4 L924.0 120.2 L924.5 116.4 L925.0 113.7 L925.4 113.0 L925.5 113.0 L926.0 113.8 L926.5 115.7 L927.0 118.3 L927.1 118.9 L927.5 126.5 L928.0 144.0 L928.5 159.4 L928.8 162.8 L929.0 162.6 L929.5 160.6 L930.0 156.9 L930.5 152.1 L931.0 146.8 L931.5 141.7 L932.0 137.2 L932.2 135.8 L932.5 133.7 L933.0 130.0 L933.5 126.3 L934.0 122.8 L934.5 119.9 L935.0 117.9 L935.5 117.2 L936.0 118.3 L936.5 121.1 L937.0 124.9 L937.5 128.9 L938.0 132.6 L938.5 135.1 L938.9 135.8 L939.0 135.5 L939.5 127.5 L940.0 117.2 L940.3 114.7 L940.5 115.0 L941.0 118.2 L941.5 123.2 L942.0 128.4 L942.5 132.0 L942.6 132.4 L943.0 133.3 L943.5 134.0 L944.0 134.8 L944.3 135.8 L944.5 138.0 L945.0 151.4 L945.2 158.0"/>
<path class="c" stroke="#404040" d="M70.0 215.5 L70.5 215.6 L71.0 215.8 L71.5 215.8 L72.0 215.7 L72.5 215.5 L73.0 215.6 L73.5 215.6 L74.0 215.7 L74.5 215.6 L75.0 215.6 L75.5 215.5 L76.0 215.4 L76.5 215.3 L77.0 215.4 L77.5 215.6 L78.0 215.6 L78.5 215.6 L79.0 215.6 L79.5 215.6 L80.0 215.7 L80.5 215.8 L81.0 215.8 L81.5 215.9 L82.0 215.9 L82.5 215.8 L83.0 215.7 L83.5 215.6 L84.0 215.6 L84.5 215.6 L85.0 215.6 L85.5 215.7 L86.0 215.7 L86.5 215.6 L87.0 215.6 L87.5 215.7 L88.0 215.7 L88.5 215.7 L89.0 215.5 L89.5 215.4 L90.0 215.4 L90.5 215.4 L91.0 215.4 L91.5 215.4 L92.0 215.3 L92.5 215.4 L93.0 215.6 L93.5 215.7 L94.0 215.6 L94.5 215.6 L95.0 215.6 L95.5 215.5 L96.0 215.5 L96.5 215.5 L97.0 215.5 L97.5 215.5 L98.0 215.5 L98.5 215.5 L99.0 215.5 L99.5 215.5 L100.0 215.5 L100.5 215.5 L101.0 215.5 L101.5 215.5 L102.0 215.5 L102.5 215.5 L103.0 215.6 L103.5 215.7 L104.0 215.8 L104.5 215.7 L105.0 215.7 L105.5 215.6 L106.0 215.5 L106.5 215.5 L107.0 215.5 L107.5 215.5 L108.0 215.6 L108.5 215.7 L109.0 215.8 L109.5 215.7 L110.0 215.7 L110.5 215.7 L111.0 215.7 L111.5 215.7 L112.0 215.7 L112.5 215.7 L113.0 215.7 L113.5 215.8 L114.0 215.8 L114.5 215.8 L115.0 215.6 L115.5 215.4 L116.0 215.5 L116.5 215.5 L117.0 215.5 L117.5 215.4 L118.0 215.4 L118.5 215.5 L119.0 215.6 L119.5 215.7 L120.0 215.6 L120.5 215.6 L121.0 215.6 L121.5 215.5 L122.0 215.5 L122.5 215.5 L123.0 215.5 L123.5 215.6 L124.0 215.6 L124.5 215.7 L125.0 215.7 L125.5 215.7 L126.0 215.6 L126.5 215.6 L127.0 215.6 L127.5 215.6 L128.0 215.7 L128.5 215.8 L129.0 215.7 L129.5 215.6 L130.0 215.5 L130.5 215.5 L131.0 215.5 L131.5 215.7 L132.0 215.9 L132.5 216.0 L133.0 215.9 L133.5 215.7 L134.0 215.6 L134.5 215.6 L135.0 215.6 L135.2 215.6 L135.5 215.6 L136.0 215.6 L136.5 215.7 L137.0 215.7 L137.5 215.8 L138.0 215.9 L138.5 216.0 L139.0 216.1 L139.5 216.2 L140.0 216.2 L140.5 216.2 L141.0 216.3 L141.5 216.3 L142.0 216.3 L142.5 216.3 L143.0 216.3 L143.5 216.2 L144.0 216.2 L144.5 216.3 L145.0 216.4 L145.5 216.6 L146.0 216.7 L146.5 216.8 L147.0 216.9 L147.5 216.9 L148.0 216.9 L148.5 216.9 L149.0 216.9 L149.5 216.9 L150.0 217.0 L150.1 217.1 L150.5 217.2 L151.0 217.2 L151.5 217.2 L152.0 217.3 L152.5 217.4 L153.0 217.6 L153.5 217.7 L154.0 217.8 L154.5 217.9 L155.0 218.1 L155.5 218.3 L156.0 218.5 L156.5 218.7 L157.0 218.9 L157.5 219.1 L158.0 219.3 L158.5 219.4 L158.6 219.5 L159.0 219.7 L159.5 220.0 L160.0 220.2 L160.5 220.5 L161.0 220.9 L161.5 221.1 L162.0 221.3 L162.5 221.5 L163.0 221.7 L163.5 221.9 L164.0 222.2 L164.5 222.5 L165.0 222.8 L165.5 223.1 L166.0 223.4 L166.5 223.7 L167.0 224.0 L167.5 224.3 L168.0 224.6 L168.5 225.0 L169.0 225.4 L169.5 225.7 L170.0 226.1 L170.5 226.4 L171.0 226.8 L171.5 227.1 L172.0 227.4 L172.5 227.8 L173.0 228.2 L173.5 228.5 L174.0 228.9 L174.5 229.2 L175.0 229.6 L175.5 230.0 L176.0 230.3 L176.5 230.7 L177.0 231.1 L177.2 231.4 L177.5 231.7 L178.0 232.2 L178.5 232.6 L179.0 232.9 L179.5 233.3 L180.0 233.6 L180.5 233.9 L181.0 234.3 L181.5 234.8 L182.0 235.2 L182.5 235.7 L183.0 236.1 L183.5 236.6 L184.0 237.1 L184.5 237.6 L185.0 238.1 L185.5 238.7 L186.0 239.1 L186.5 239.6 L187.0 240.0 L187.5 240.5 L188.0 240.9 L188.5 241.4 L189.0 241.8 L189.5 242.3 L190.0 242.7 L190.5 243.2 L190.7 243.4 L191.0 243.6 L191.5 244.0 L192.0 244.5 L192.5 244.9 L193.0 245.3 L193.5 245.7 L194.0 246.1 L194.5 246.5 L195.0 246.9 L195.5 247.2 L196.0 247.6 L196.5 248.1 L197.0 248.6 L197.5 249.1 L198.0 249.7 L198.5 250.2 L199.0 250.6 L199.5 250.9 L200.0 251.2 L200.5 251.6 L201.0 252.1 L201.5 252.6 L202.0 253.1 L202.5 253.6 L203.0 254.0 L203.5 254.4 L204.0 254.8 L204.2 255.0 L204.5 255.2 L205.0 255.7 L205.5 256.2 L206.0 256.8 L206.5 257.4 L207.0 257.8 L207.5 258.2 L208.0 258.6 L208.5 259.1 L209.0 259.6 L209.5 260.0 L210.0 260.4 L210.5 260.8 L211.0 261.4 L211.5 261.9 L212.0 262.3 L212.5 262.8 L213.0 263.2 L213.5 263.6 L214.0 264.1 L214.4 264.4 L214.5 264.5 L215.0 264.9 L215.5 265.3 L216.0 265.7 L216.5 266.1 L217.0 266.5 L217.5 266.8 L218.0 267.1 L218.5 267.5 L219.0 267.9 L219.5 268.3 L220.0 268.5 L220.5 268.7 L221.0 269.0 L221.5 269.4 L222.0 269.8 L222.5 270.1 L222.8 270.3 L223.0 270.4 L223.5 270.7 L224.0 270.9 L224.5 271.1 L225.0 271.3 L225.5 271.5 L226.0 271.7 L226.5 272.0 L227.0 272.2 L227.5 272.4 L228.0 272.6 L228.5 272.6 L229.0 272.9 L229.5 273.1 L229.6 273.1 L230.0 273.2 L230.5 273.3 L231.0 273.4 L231.5 273.5 L232.0 273.5 L232.5 273.5 L233.0 273.6 L233.5 273.7 L234.0 273.8 L234.5 273.9 L234.7 273.9 L235.0 273.9 L235.5 273.9 L236.0 273.9 L236.5 273.9 L237.0 273.8 L237.5 273.7 L238.0 273.6 L238.5 273.4 L239.0 273.3 L239.5 273.2 L240.0 273.1 L240.5 272.9 L241.0 272.8 L241.4 272.7 L241.5 272.7 L242.0 272.6 L242.5 272.6 L243.0 272.5 L243.5 272.4 L244.0 272.4 L244.5 272.2 L245.0 271.9 L245.5 271.7 L246.0 271.4 L246.5 271.2 L247.0 271.0 L247.5 270.8 L248.0 270.5 L248.5 270.1 L249.0 269.7 L249.5 269.3 L250.0 269.2 L250.5 269.0 L251.0 268.8 L251.5 268.5 L251.6 268.4 L252.0 268.2 L252.5 268.1 L253.0 267.9 L253.5 267.7 L254.0 267.5 L254.5 267.2 L255.0 266.9 L255.5 266.4 L256.0 266.0 L256.5 265.8 L257.0 265.5 L257.5 265.3 L258.0 265.0 L258.5 264.7 L259.0 264.3 L259.5 264.0 L260.0 263.6 L260.5 263.3 L261.0 263.0 L261.5 262.6 L261.7 262.5 L262.0 262.3 L262.5 262.0 L263.0 261.7 L263.5 261.5 L264.0 261.1 L264.5 260.7 L265.0 260.2 L265.5 259.9 L266.0 259.7 L266.5 259.4 L267.0 258.9 L267.5 258.5 L268.0 258.1 L268.5 257.8 L269.0 257.5 L269.5 257.1 L270.0 256.8 L270.5 256.3 L271.0 255.8 L271.5 255.3 L272.0 254.9 L272.5 254.5 L273.0 254.1 L273.5 253.8 L274.0 253.5 L274.5 253.0 L275.0 252.6 L275.2 252.4 L275.5 252.1 L276.0 251.7 L276.5 251.4 L277.0 251.0 L277.5 250.6 L278.0 250.2 L278.5 249.8 L279.0 249.4 L279.5 249.0 L280.0 248.5 L280.5 248.0 L281.0 247.6 L281.5 247.2 L282.0 246.9 L282.5 246.5 L283.0 246.1 L283.5 245.8 L284.0 245.4 L284.5 245.0 L285.0 244.4 L285.5 243.8 L286.0 243.4 L286.5 243.2 L287.0 243.0 L287.5 242.6 L288.0 242.2 L288.5 241.8 L288.8 241.5 L289.0 241.4 L289.5 240.9 L290.0 240.5 L290.5 240.1 L291.0 239.7 L291.5 239.4 L292.0 239.2 L292.5 238.9 L293.0 238.4 L293.5 238.0 L294.0 237.7 L294.5 237.4 L295.0 237.1 L295.5 236.8 L296.0 236.6 L296.5 236.2 L297.0 235.9 L297.5 235.5 L298.0 235.3 L298.5 235.1 L298.9 234.9 L299.0 234.9 L299.5 234.7 L300.0 234.6 L300.5 234.4 L301.0 234.2 L301.5 234.0 L302.0 233.8 L302.5 233.7 L303.0 233.4 L303.5 233.2 L304.0 233.0 L304.5 232.6 L305.0 232.3 L305.5 232.0 L306.0 231.8 L306.5 231.5 L307.0 231.5 L307.2 231.4 L307.5 231.4 L308.0 231.3 L308.5 231.0 L309.0 230.7 L309.5 230.5 L310.0 230.3 L310.5 230.1 L311.0 229.8 L311.5 229.6 L312.0 229.4 L312.5 229.3 L313.0 229.3 L313.5 229.1 L314.0 228.9 L314.5 228.7 L315.0 228.6 L315.5 228.5 L316.0 228.4 L316.5 228.3 L317.0 228.2 L317.5 228.1 L318.0 228.1 L318.5 228.1 L319.0 228.0 L319.5 228.0 L320.0 227.9 L320.5 227.7 L321.0 227.6 L321.5 227.6 L322.0 227.6 L322.5 227.6 L323.0 227.7 L323.5 227.7 L323.9 227.6 L324.0 227.6 L324.5 227.6 L325.0 227.7 L325.5 228.0 L326.0 228.2 L326.5 228.6 L327.0 228.9 L327.5 229.3 L328.0 229.6 L328.5 230.0 L329.0 230.5 L329.5 231.2 L330.0 231.9 L330.5 232.5 L331.0 233.0 L331.5 233.6 L332.0 234.4 L332.2 234.6 L332.5 235.1 L333.0 235.7 L333.5 236.4 L334.0 237.0 L334.5 237.5 L335.0 237.9 L335.2 238.0 L335.5 238.3 L336.0 238.8 L336.5 239.2 L337.0 239.5 L337.5 239.8 L338.0 240.0 L338.5 240.3 L339.0 240.7 L339.5 241.1 L340.0 241.7 L340.5 242.5 L341.0 243.4 L341.5 244.5 L342.0 245.6 L342.5 246.9 L342.9 247.8 L343.0 248.0 L343.5 249.2 L344.0 250.3 L344.5 251.4 L345.0 252.5 L345.5 253.6 L346.0 254.8 L346.5 256.0 L347.0 257.4 L347.5 258.8 L348.0 260.3 L348.5 261.5 L348.9 262.1 L349.0 262.3 L349.5 262.9 L350.0 263.1 L350.3 263.0 L350.5 262.9 L351.0 262.6 L351.5 262.4 L351.9 262.1 L352.0 262.0 L352.5 261.1 L353.0 259.8 L353.5 258.4 L354.0 257.4 L354.3 256.9 L354.5 256.6 L355.0 255.8 L355.5 255.1 L356.0 254.4 L356.5 253.8 L356.7 253.6 L357.0 253.3 L357.5 252.9 L358.0 252.6 L358.5 252.3 L359.0 251.9 L359.5 251.5 L359.6 251.4 L360.0 251.0 L360.5 250.2 L361.0 249.3 L361.5 248.3 L362.0 247.2 L362.5 246.2 L363.0 245.5 L363.2 245.2 L363.5 244.8 L364.0 243.8 L364.5 242.7 L365.0 241.5 L365.5 240.6 L366.0 239.8 L366.5 239.4 L366.8 239.2 L367.0 239.2 L367.5 239.1 L368.0 239.0 L368.5 238.9 L369.0 238.8 L369.2 238.8 L369.5 238.9 L370.0 239.0 L370.5 239.2 L371.0 239.4 L371.5 239.7 L372.0 239.9 L372.5 240.1 L373.0 240.3 L373.5 240.5 L374.0 240.6 L374.5 240.4 L375.0 240.1 L375.5 239.5 L376.0 238.8 L376.5 238.1 L377.0 237.4 L377.5 236.9 L378.0 236.4 L378.5 236.0 L379.0 235.5 L379.5 235.0 L380.0 234.4 L380.5 233.8 L381.0 233.1 L381.1 232.9 L381.5 232.2 L382.0 231.0 L382.5 229.9 L383.0 228.8 L383.5 228.1 L384.0 227.6 L384.5 227.1 L385.0 226.7 L385.5 226.3 L386.0 226.0 L386.5 225.8 L387.0 225.6 L387.1 225.6 L387.5 225.4 L388.0 225.1 L388.5 224.9 L389.0 224.8 L389.5 224.7 L390.0 224.6 L390.5 224.6 L391.0 224.7 L391.5 224.6 L392.0 224.5 L392.5 224.5 L393.0 224.4 L393.5 224.4 L394.0 224.2 L394.5 223.9 L395.0 223.6 L395.4 223.6 L395.5 223.7 L396.0 223.7 L396.5 223.7 L397.0 223.4 L397.5 223.2 L398.0 223.3 L398.5 223.4 L399.0 223.6 L399.5 223.5 L400.0 223.4 L400.5 223.3 L401.0 223.3 L401.5 223.2 L402.0 223.1 L402.5 223.1 L403.0 223.1 L403.5 223.1 L404.0 223.1 L404.5 223.0 L405.0 222.9 L405.5 222.8 L406.0 222.8 L406.5 222.9 L407.0 222.9 L407.4 222.8 L407.5 222.8 L408.0 222.7 L408.5 222.7 L409.0 222.7 L409.5 222.6 L410.0 222.6 L410.5 222.6 L411.0 222.6 L411.5 222.5 L412.0 222.5 L412.5 222.4 L413.0 222.3 L413.5 222.3 L414.0 222.4 L414.5 222.4 L415.0 222.4 L415.5 222.4 L416.0 222.4 L416.5 222.3 L417.0 222.2 L417.5 222.2 L418.0 222.2 L418.5 222.3 L419.0 222.2 L419.3 222.2 L419.5 222.2 L420.0 222.1 L420.5 222.0 L421.0 221.8 L421.5 221.8 L422.0 221.9 L422.5 221.8 L423.0 221.8 L423.5 221.7 L424.0 221.7 L424.5 221.6 L425.0 221.5 L425.5 221.6 L426.0 221.6 L426.5 221.5 L427.0 221.4 L427.5 221.3 L428.0 221.3 L428.5 221.3 L429.0 221.3 L429.5 221.3 L430.0 221.2 L430.5 221.2 L431.0 221.2 L431.5 221.1 L432.0 221.1 L432.5 221.0 L433.0 221.1 L433.5 221.1 L434.0 221.2 L434.5 221.0 L435.0 220.8 L435.5 220.7 L436.0 220.7 L436.5 220.7 L437.0 220.6 L437.5 220.5 L437.8 220.4 L438.0 220.4 L438.5 220.5 L439.0 220.6 L439.5 220.6 L440.0 220.6 L440.5 220.6 L441.0 220.6 L441.5 220.5 L442.0 220.5 L442.5 220.3 L443.0 220.2 L443.5 220.2 L444.0 220.1 L444.5 220.1 L445.0 220.2 L445.5 220.3 L446.0 220.2 L446.5 220.1 L447.0 220.0 L447.5 220.0 L448.0 220.0 L448.5 220.0 L449.0 219.9 L449.5 219.7 L450.0 219.8 L450.5 219.9 L451.0 219.9 L451.5 219.9 L452.0 219.8 L452.5 219.8 L453.0 219.7 L453.5 219.7 L454.0 219.6 L454.5 219.5 L455.0 219.4 L455.5 219.4 L456.0 219.4 L456.5 219.4 L457.0 219.4 L457.5 219.4 L458.0 219.4 L458.5 219.3 L459.0 219.3 L459.5 219.3 L460.0 219.2 L460.5 219.2 L461.0 219.1 L461.5 219.1 L462.0 219.1 L462.5 219.1 L463.0 219.2 L463.5 219.2 L464.0 219.2 L464.5 219.0 L465.0 218.8 L465.5 218.7 L466.0 218.7 L466.5 218.7 L467.0 218.7 L467.5 218.7 L468.0 218.7 L468.5 218.7 L469.0 218.8 L469.5 218.7 L470.0 218.6 L470.5 218.6 L471.0 218.7 L471.5 218.9 L472.0 218.9 L472.5 218.9 L473.0 218.8 L473.5 218.8 L474.0 218.8 L474.5 218.8 L475.0 218.7 L475.4 218.7 L475.5 218.7 L476.0 218.8 L476.5 218.8 L477.0 218.9 L477.5 219.0 L478.0 219.1 L478.5 219.1 L479.0 219.2 L479.5 219.2 L480.0 219.2 L480.5 219.1 L481.0 219.1 L481.5 219.2 L482.0 219.3 L482.5 219.2 L483.0 219.0 L483.5 218.8 L484.0 219.1 L484.5 219.3 L485.0 219.2 L485.5 218.7 L486.0 218.3 L486.5 218.5 L487.0 218.7 L487.5 218.8 L488.0 218.7 L488.5 218.6 L489.0 218.7 L489.5 218.8 L490.0 218.9 L490.5 218.6 L491.0 218.3 L491.5 218.4 L491.9 218.6 L492.0 218.6 L492.5 218.7 L493.0 218.0 L493.5 217.2 L494.0 216.7 L494.5 216.7 L494.9 216.9 L495.0 216.9 L495.5 216.9 L496.0 216.7 L496.5 216.6 L497.0 216.6 L497.5 216.5 L498.0 216.5 L498.5 216.6 L499.0 216.6 L499.5 216.8 L500.0 216.9 L500.5 217.0 L501.0 216.9 L501.5 216.7 L502.0 216.5 L502.5 216.2 L503.0 216.0 L503.5 216.3 L504.0 216.7 L504.5 216.7 L504.6 216.7 L505.0 216.7 L505.5 217.0 L506.0 217.3 L506.5 217.7 L507.0 218.2 L507.5 218.8 L507.6 218.9 L508.0 219.2 L508.5 219.3 L509.0 219.3 L509.5 219.4 L510.0 219.7 L510.5 220.0 L511.0 220.2 L511.5 220.4 L512.0 220.5 L512.5 220.6 L513.0 220.6 L513.5 220.7 L514.0 220.9 L514.5 221.1 L515.0 221.0 L515.5 220.9 L515.8 220.8 L516.0 220.8 L516.5 220.9 L517.0 220.9 L517.5 220.8 L518.0 220.6 L518.5 220.4 L519.0 220.3 L519.5 220.1 L520.0 220.0 L520.5 220.1 L521.0 220.1 L521.5 219.8 L522.0 219.4 L522.5 219.1 L523.0 218.8 L523.2 218.7 L523.5 218.6 L524.0 218.5 L524.5 218.4 L525.0 218.3 L525.5 218.1 L526.0 217.9 L526.5 217.7 L527.0 217.6 L527.5 217.5 L528.0 217.4 L528.5 217.3 L529.0 217.1 L529.5 217.0 L530.0 216.9 L530.5 216.8 L531.0 216.7 L531.5 216.6 L532.0 216.5 L532.5 216.4 L532.9 216.4 L533.0 216.4 L533.5 216.9 L534.0 217.7 L534.5 218.8 L535.0 219.9 L535.5 220.8 L536.0 221.3 L536.4 221.3 L536.5 221.3 L537.0 220.5 L537.4 219.5 L537.5 219.3 L538.0 217.0 L538.3 215.9 L538.5 215.3 L538.9 214.7 L539.0 214.7 L539.5 215.1 L539.8 215.5 L540.0 215.9 L540.5 218.3 L541.0 220.1 L541.1 220.2 L541.5 215.7 L541.6 215.1 L542.0 216.9 L542.4 218.5 L542.5 218.1 L543.0 214.2 L543.1 213.6 L543.5 213.4 L544.0 213.2 L544.1 213.2 L544.5 212.7 L544.9 212.3 L545.0 212.4 L545.5 215.3 L545.8 216.4 L546.0 216.2 L546.3 215.9 L546.5 216.0 L547.0 216.5 L547.5 216.9 L547.5 216.9 L548.0 215.0 L548.5 211.0 L548.6 210.3 L549.0 207.7 L549.5 204.3 L550.0 202.3 L550.1 202.3 L550.5 202.3 L551.0 202.3 L551.5 202.2 L552.0 202.1 L552.3 202.0 L552.5 203.2 L553.0 212.2 L553.4 217.4 L553.5 217.7 L554.0 219.2 L554.5 219.9 L555.0 219.1 L555.5 217.0 L556.0 214.9 L556.5 214.0 L557.0 214.4 L557.5 215.4 L558.0 216.6 L558.5 217.8 L559.0 218.6 L559.5 219.1 L560.0 219.6 L560.5 220.1 L561.0 220.5 L561.5 220.9 L562.0 221.3 L562.5 221.6 L563.0 221.8 L563.5 221.9 L564.0 222.0 L564.5 222.2 L565.0 222.4 L565.5 222.2 L566.0 221.6 L566.5 220.8 L567.0 220.0 L567.5 219.4 L568.0 218.9 L568.5 218.7 L568.7 218.8 L569.0 218.9 L569.5 219.0 L570.0 219.0 L570.5 219.1 L571.0 219.2 L571.5 219.4 L572.0 219.7 L572.5 220.3 L573.0 220.9 L573.5 221.2 L574.0 221.3 L574.5 221.5 L575.0 221.6 L575.4 221.7 L575.5 221.6 L576.0 219.7 L576.5 216.9 L577.0 215.4 L577.5 220.7 L577.8 222.7 L578.0 221.1 L578.5 215.4 L578.5 215.4 L579.0 215.5 L579.1 215.5 L579.5 215.6 L580.0 216.0 L580.3 216.3 L580.5 217.1 L581.0 221.9 L581.4 224.4 L581.5 224.0 L582.0 217.1 L582.1 216.7 L582.5 219.9 L583.0 224.2 L583.0 224.2 L583.5 219.3 L583.7 218.0 L584.0 219.4 L584.5 223.1 L584.5 223.1 L585.0 214.6 L585.1 213.9 L585.5 216.0 L586.0 221.6 L586.5 225.8 L586.6 226.0 L587.0 225.9 L587.5 225.1 L587.9 223.8 L588.0 223.4 L588.5 217.5 L588.7 216.6 L589.0 216.7 L589.5 217.0 L589.6 217.0 L590.0 216.6 L590.4 216.2 L590.5 216.5 L591.0 223.9 L591.1 224.4 L591.5 222.2 L592.0 217.4 L592.3 216.3 L592.5 217.2 L593.0 221.5 L593.2 222.4 L593.5 221.2 L594.0 217.3 L594.1 217.1 L594.5 219.2 L594.8 220.5 L595.0 220.1 L595.5 218.1 L595.8 217.6 L596.0 217.7 L596.5 218.0 L597.0 218.2 L597.5 218.4 L598.0 218.6 L598.5 218.9 L599.0 219.0 L599.3 219.0 L599.5 218.7 L600.0 216.1 L600.5 213.1 L600.8 212.5 L601.0 213.0 L601.5 216.7 L602.0 220.7 L602.3 221.7 L602.5 221.7 L603.0 221.6 L603.5 221.0 L604.0 220.3 L604.5 219.6 L605.0 219.0 L605.5 218.5 L606.0 218.0 L606.5 217.7 L606.7 217.6 L607.0 217.7 L607.5 218.1 L608.0 218.7 L608.5 219.5 L609.0 220.2 L609.5 220.9 L610.0 221.2 L610.5 221.3 L611.0 221.1 L611.5 220.7 L612.0 220.3 L612.5 219.8 L613.0 219.3 L613.5 218.9 L614.0 218.5 L614.2 218.4 L614.5 218.3 L615.0 218.3 L615.5 218.4 L616.0 218.5 L616.5 218.6 L617.0 218.7 L617.5 218.7 L618.0 218.6 L618.5 218.5 L619.0 218.6 L619.5 218.8 L620.0 218.9 L620.5 219.0 L621.0 219.1 L621.5 219.2 L622.0 219.3 L622.5 219.4 L623.0 219.4 L623.5 219.3 L624.0 219.4 L624.5 219.6 L625.0 219.8 L625.5 219.9 L626.0 219.9 L626.5 219.9 L627.0 220.0 L627.5 220.1 L628.0 220.2 L628.5 220.2 L629.0 220.3 L629.1 220.3 L629.5 220.3 L630.0 220.2 L630.5 220.2 L631.0 220.3 L631.5 220.3 L632.0 220.2 L632.5 220.1 L633.0 220.1 L633.5 220.1 L634.0 220.1 L634.5 220.2 L635.0 220.2 L635.5 220.2 L636.0 220.3 L636.5 220.3 L637.0 220.4 L637.5 220.5 L638.0 220.6 L638.5 220.5 L639.0 220.3 L639.5 220.2 L640.0 220.3 L640.5 220.4 L641.0 220.5 L641.5 220.4 L642.0 220.4 L642.5 220.4 L643.0 220.4 L643.5 220.5 L644.0 220.7 L644.5 220.9 L645.0 220.9 L645.5 220.8 L646.0 220.8 L646.5 220.9 L647.0 221.0 L647.5 221.1 L648.0 221.1 L648.5 221.1 L649.0 221.0 L649.5 220.9 L650.0 220.9 L650.5 220.9 L651.0 220.9 L651.3 221.0 L651.5 221.1 L652.0 221.6 L652.5 222.0 L653.0 222.3 L653.5 222.7 L654.0 223.2 L654.5 223.8 L655.0 224.4 L655.5 225.1 L656.0 225.8 L656.1 226.0 L656.5 226.5 L657.0 227.2 L657.5 228.0 L658.0 228.8 L658.5 229.6 L659.0 230.3 L659.5 231.0 L660.0 231.5 L660.5 231.8 L660.8 231.9 L661.0 231.8 L661.5 231.3 L662.0 230.4 L662.5 229.3 L663.0 228.3 L663.5 227.5 L663.8 227.2 L664.0 227.1 L664.5 226.7 L665.0 226.4 L665.5 226.1 L666.0 225.8 L666.5 225.7 L667.0 225.6 L667.5 225.6 L668.0 225.7 L668.5 225.7 L669.0 225.7 L669.5 225.7 L670.0 225.8 L670.5 225.9 L671.0 225.9 L671.5 225.9 L671.6 225.9 L672.0 226.0 L672.5 226.2 L673.0 226.6 L673.5 227.0 L674.0 227.4 L674.5 227.9 L675.0 228.6 L675.5 229.3 L676.0 229.8 L676.3 230.1 L676.5 230.3 L677.0 231.0 L677.5 231.7 L678.0 232.5 L678.5 233.4 L679.0 234.2 L679.5 235.0 L680.0 235.8 L680.5 236.5 L681.0 237.1 L681.5 237.6 L682.0 237.8 L682.3 237.9 L682.5 237.9 L683.0 238.0 L683.5 238.0 L684.0 238.1 L684.5 238.1 L685.0 238.1 L685.5 238.1 L686.0 238.2 L686.5 238.2 L687.0 238.2 L687.5 238.2 L687.7 238.2 L688.0 238.2 L688.5 237.9 L689.0 237.5 L689.5 236.9 L690.0 236.2 L690.5 235.4 L691.0 234.6 L691.5 233.8 L692.0 233.1 L692.5 232.4 L693.0 231.9 L693.5 231.5 L694.0 231.0 L694.5 230.6 L695.0 230.2 L695.5 229.8 L696.0 229.4 L696.5 229.0 L697.0 228.7 L697.5 228.4 L698.0 228.1 L698.5 227.9 L699.0 227.7 L699.5 227.5 L700.0 227.4 L700.5 227.2 L701.0 227.0 L701.5 226.9 L702.0 226.8 L702.5 226.6 L703.0 226.5 L703.5 226.4 L704.0 226.3 L704.5 226.2 L705.0 226.1 L705.5 226.0 L706.0 226.0 L706.5 225.9 L707.0 225.9 L707.4 225.9 L707.5 225.9 L708.0 225.9 L708.5 225.9 L709.0 226.0 L709.5 226.0 L710.0 226.0 L710.5 226.1 L711.0 226.1 L711.5 226.2 L712.0 226.3 L712.5 226.3 L713.0 226.4 L713.5 226.5 L714.0 226.5 L714.5 226.6 L715.0 226.7 L715.5 226.7 L716.0 226.8 L716.5 226.9 L717.0 226.9 L717.5 227.0 L718.0 227.0 L718.5 227.1 L719.0 227.1 L719.3 227.1 L719.5 227.1 L720.0 227.1 L720.5 227.1 L721.0 227.1 L721.5 227.1 L722.0 227.2 L722.5 227.2 L723.0 227.2 L723.4 227.2 L723.5 227.2 L724.0 227.4 L724.5 227.8 L725.0 228.3 L725.5 228.9 L726.0 229.7 L726.5 230.6 L727.0 231.5 L727.5 232.4 L727.6 232.6 L728.0 233.5 L728.5 235.2 L729.0 237.2 L729.5 239.6 L730.0 242.1 L730.5 244.7 L731.0 247.2 L731.5 249.6 L732.0 251.6 L732.5 253.2 L733.0 254.2 L733.5 254.6 L734.0 254.6 L734.5 254.5 L735.0 254.3 L735.5 254.1 L736.0 253.8 L736.1 253.8 L736.5 253.5 L737.0 252.8 L737.5 251.9 L738.0 250.9 L738.5 249.8 L739.0 248.7 L739.5 247.7 L740.0 247.0 L740.5 246.6 L740.8 246.5 L741.0 246.5 L741.5 246.6 L742.0 246.9 L742.5 247.2 L743.0 247.6 L743.5 248.0 L744.0 248.5 L744.5 249.0 L745.0 249.4 L745.5 249.8 L746.0 250.1 L746.5 250.3 L747.0 250.4 L747.1 250.4 L747.5 250.3 L748.0 250.1 L748.5 249.7 L749.0 249.3 L749.5 248.8 L750.0 248.4 L750.5 248.0 L751.0 247.8 L751.3 247.8 L751.5 247.8 L752.0 248.2 L752.5 249.0 L753.0 250.1 L753.5 251.3 L754.0 252.8 L754.5 254.4 L755.0 256.0 L755.5 257.5 L756.0 258.9 L756.5 260.2 L757.0 261.2 L757.5 261.9 L758.0 262.2 L758.1 262.2 L758.5 262.0 L759.0 261.1 L759.5 259.7 L760.0 258.1 L760.5 256.4 L761.0 254.8 L761.5 253.5 L762.0 252.7 L762.3 252.6 L762.5 252.6 L763.0 252.7 L763.5 252.8 L764.0 252.9 L764.5 253.1 L765.0 253.3 L765.5 253.4 L766.0 253.6 L766.5 253.7 L767.0 253.8 L767.4 253.8 L767.5 253.8 L768.0 253.5 L768.5 252.9 L769.0 252.1 L769.5 251.2 L770.0 250.2 L770.5 249.4 L771.0 248.7 L771.5 248.3 L771.6 248.3 L772.0 248.2 L772.5 248.2 L773.0 248.1 L773.5 248.1 L774.0 248.0 L774.5 248.0 L775.0 247.9 L775.5 247.9 L775.8 247.8 L776.0 247.7 L776.5 247.1 L777.0 246.0 L777.5 244.7 L778.0 243.2 L778.5 241.8 L779.0 240.6 L779.5 239.7 L780.0 239.4 L780.5 239.4 L781.0 239.5 L781.5 239.5 L782.0 239.6 L782.5 239.7 L783.0 239.9 L783.5 240.0 L784.0 240.1 L784.5 240.3 L785.0 240.5 L785.5 240.6 L786.0 240.8 L786.5 240.9 L787.0 241.1 L787.5 241.2 L788.0 241.3 L788.5 241.4 L789.0 241.5 L789.5 241.5 L790.0 241.6 L790.5 241.6 L791.0 241.7 L791.5 241.7 L792.0 241.8 L792.5 241.8 L793.0 241.9 L793.5 241.9 L794.0 242.0 L794.5 242.1 L795.0 242.1 L795.5 242.2 L796.0 242.4 L796.1 242.4 L796.5 242.7 L797.0 243.3 L797.5 244.4 L798.0 245.6 L798.5 246.9 L799.0 248.2 L799.5 249.5 L800.0 250.9 L800.5 252.6 L801.0 254.4 L801.5 256.2 L802.0 257.6 L802.5 258.5 L802.9 258.8 L803.0 258.8 L803.5 258.0 L804.0 256.4 L804.5 254.4 L805.0 252.3 L805.5 250.6 L806.0 249.6 L806.2 249.5 L806.5 249.6 L807.0 250.4 L807.5 251.6 L807.9 252.9 L808.0 253.3 L808.5 257.9 L809.0 265.1 L809.5 273.3 L809.6 274.9 L810.0 282.4 L810.4 290.0 L810.5 291.7 L811.0 300.1 L811.5 307.3 L811.8 310.3 L812.0 311.8 L812.5 315.2 L813.0 317.5 L813.3 317.9 L813.5 317.8 L814.0 316.6 L814.5 314.5 L815.0 312.0 L815.5 309.6 L816.0 307.6 L816.3 306.9 L816.5 306.6 L817.0 305.7 L817.5 304.9 L818.0 304.2 L818.5 303.6 L819.0 303.2 L819.5 302.8 L820.0 302.7 L820.1 302.7 L820.5 303.0 L821.0 304.1 L821.5 305.7 L822.0 307.5 L822.3 308.6 L822.5 309.3 L823.0 311.7 L823.5 314.4 L824.0 317.1 L824.5 319.4 L824.8 320.4 L825.0 320.9 L825.5 322.0 L826.0 322.9 L826.5 323.6 L827.0 324.2 L827.5 325.0 L828.0 326.0 L828.5 327.3 L828.7 328.0 L829.0 329.6 L829.5 333.9 L830.0 339.0 L830.4 342.4 L830.5 343.1 L831.0 347.0 L831.5 350.7 L832.0 353.4 L832.4 354.2 L832.5 354.1 L833.0 352.4 L833.5 349.0 L834.0 345.3 L834.5 342.5 L834.9 341.6 L835.0 341.6 L835.5 343.0 L836.0 345.8 L836.5 349.5 L837.0 353.4 L837.5 356.8 L838.0 359.8 L838.5 362.9 L839.0 366.1 L839.5 369.3 L840.0 372.4 L840.5 375.6 L841.0 378.7 L841.5 381.8 L841.7 383.0 L842.0 384.9 L842.5 388.5 L843.0 392.3 L843.5 396.2 L844.0 399.8 L844.5 403.0 L845.0 405.5 L845.5 407.1 L845.9 407.5 L846.0 407.5 L846.5 406.3 L847.0 403.8 L847.5 400.4 L848.0 396.4 L848.5 392.4 L849.0 388.6 L849.5 385.6 L849.7 384.7 L850.0 383.6 L850.5 382.1 L851.0 380.8 L851.5 379.6 L852.0 378.3 L852.5 376.7 L853.0 374.5 L853.5 371.1 L854.0 366.2 L854.5 360.2 L855.0 353.6 L855.2 350.9 L855.5 346.0 L856.0 335.7 L856.5 325.8 L856.9 320.4 L857.0 319.5 L857.5 315.3 L858.0 311.7 L858.5 309.0 L859.0 307.8 L859.1 307.8 L859.5 308.2 L860.0 309.4 L860.5 311.2 L861.0 313.2 L861.5 315.1 L862.0 316.5 L862.5 317.0 L863.0 316.3 L863.5 314.6 L864.0 312.3 L864.5 309.7 L865.0 307.5 L865.4 306.1 L865.5 305.8 L866.0 304.7 L866.5 303.8 L867.0 303.0 L867.5 302.1 L868.0 300.9 L868.3 300.1 L868.5 299.4 L869.0 297.0 L869.5 294.1 L870.0 291.2 L870.3 289.7 L870.5 288.7 L871.0 286.1 L871.5 283.5 L872.0 281.2 L872.5 279.9 L872.8 279.6 L873.0 279.6 L873.5 279.6 L874.0 279.6 L874.5 279.6 L875.0 279.6 L875.5 279.6 L876.0 279.6 L876.2 279.6 L876.5 279.5 L877.0 278.8 L877.5 277.6 L878.0 276.0 L878.5 274.3 L879.0 272.4 L879.5 270.6 L880.0 268.9 L880.4 267.8 L880.5 267.6 L881.0 266.2 L881.5 264.8 L882.0 263.4 L882.5 261.9 L883.0 260.5 L883.5 259.2 L884.0 258.0 L884.5 257.0 L885.0 256.3 L885.5 255.8 L886.0 255.6 L886.5 256.1 L887.0 257.3 L887.5 258.9 L888.0 260.7 L888.1 261.0 L888.5 262.7 L889.0 265.7 L889.5 268.9 L890.0 271.9 L890.5 273.9 L890.9 274.5 L891.0 274.5 L891.5 274.0 L892.0 272.9 L892.5 271.3 L893.0 269.4 L893.5 267.4 L894.0 265.5 L894.5 263.6 L894.8 262.7 L895.0 262.1 L895.5 260.5 L896.0 258.8 L896.5 257.0 L897.0 255.4 L897.5 253.9 L898.0 252.5 L898.5 251.5 L899.0 250.9 L899.5 250.5 L900.0 250.1 L900.5 249.8 L901.0 249.5 L901.5 249.3 L902.0 249.2 L902.4 249.2 L902.5 249.2 L903.0 249.3 L903.5 249.5 L904.0 249.9 L904.5 250.3 L905.0 250.8 L905.5 251.4 L906.0 252.0 L906.5 252.7 L907.0 253.3 L907.5 254.0 L908.0 254.7 L908.3 255.1 L908.5 255.4 L909.0 256.0 L909.5 256.8 L910.0 257.5 L910.5 258.4 L911.0 259.2 L911.5 260.2 L912.0 261.2 L912.5 262.3 L913.0 263.4 L913.4 264.4 L913.5 264.7 L914.0 266.5 L914.5 268.8 L915.0 271.4 L915.5 274.0 L916.0 276.4 L916.5 278.3 L917.0 279.4 L917.3 279.6 L917.5 279.5 L918.0 278.3 L918.5 276.3 L919.0 273.9 L919.5 271.6 L920.0 269.9 L920.2 269.5 L920.5 269.0 L921.0 268.3 L921.5 267.6 L922.0 267.2 L922.5 266.9 L922.7 266.9 L923.0 267.0 L923.5 267.4 L924.0 268.1 L924.5 269.0 L925.0 270.1 L925.5 271.3 L926.0 272.6 L926.1 272.8 L926.5 274.0 L927.0 276.3 L927.5 278.9 L928.0 281.8 L928.5 284.7 L929.0 287.2 L929.5 289.2 L930.0 290.4 L930.3 290.6 L930.5 290.5 L931.0 290.0 L931.5 288.9 L932.0 287.5 L932.5 286.0 L933.0 284.6 L933.5 283.3 L934.0 282.4 L934.5 282.1 L935.0 282.1 L935.5 282.1 L936.0 282.1 L936.5 282.1 L937.0 282.1 L937.5 282.1 L937.9 282.1 L938.0 282.1 L938.5 281.2 L939.0 279.6 L939.5 278.0 L940.0 277.1 L940.1 277.1 L940.5 279.3 L941.0 284.6 L941.3 286.4 L941.5 286.8 L942.0 287.6 L942.5 288.3 L943.0 288.9 L943.5 289.3 L944.0 289.6 L944.5 289.7 L944.7 289.7"/>
<path class="c" stroke="#0000a0" d="M70.0 372.6 L70.5 372.5 L71.0 372.5 L71.5 372.3 L72.0 372.0 L72.5 371.7 L73.0 371.9 L73.5 372.3 L74.0 372.5 L74.5 372.3 L75.0 372.1 L75.5 372.1 L76.0 372.3 L76.5 372.4 L77.0 371.9 L77.5 371.5 L78.0 371.3 L78.5 371.3 L79.0 371.4 L79.5 371.7 L80.0 372.0 L80.5 372.2 L81.0 371.8 L81.5 371.4 L82.0 371.5 L82.5 371.8 L82.9 372.1 L83.0 372.2 L83.5 372.1 L84.0 372.1 L84.5 372.1 L85.0 372.1 L85.5 372.1 L86.0 372.1 L86.5 372.1 L87.0 372.1 L87.5 372.1 L88.0 372.1 L88.5 372.1 L89.0 372.2 L89.5 372.2 L90.0 372.0 L90.5 371.9 L91.0 371.9 L91.5 371.9 L92.0 372.0 L92.4 372.3 L92.5 372.3 L93.0 372.3 L93.5 371.7 L94.0 370.6 L94.5 369.8 L94.6 369.7 L95.0 369.9 L95.5 370.8 L96.0 371.6 L96.3 371.8 L96.5 371.8 L97.0 371.8 L97.5 371.6 L98.0 371.4 L98.5 371.2 L99.0 371.2 L99.5 371.3 L100.0 371.3 L100.5 371.1 L100.8 371.0 L101.0 370.9 L101.5 370.6 L102.0 370.2 L102.5 369.9 L103.0 369.3 L103.2 369.2 L103.5 369.1 L104.0 369.4 L104.5 369.8 L105.0 369.9 L105.5 369.8 L106.0 369.3 L106.5 368.7 L107.0 368.1 L107.5 367.9 L107.6 367.9 L108.0 368.5 L108.5 369.8 L109.0 371.4 L109.5 372.0 L109.7 372.0 L110.0 371.8 L110.5 371.1 L111.0 370.3 L111.5 369.5 L112.0 369.3 L112.1 369.3 L112.5 369.4 L113.0 369.6 L113.5 369.6 L114.0 369.6 L114.5 369.7 L115.0 369.9 L115.1 369.9 L115.5 369.8 L116.0 369.2 L116.5 368.5 L117.0 368.0 L117.1 368.0 L117.5 368.1 L118.0 368.7 L118.5 369.8 L119.0 370.8 L119.3 371.1 L119.5 371.1 L120.0 370.7 L120.5 370.1 L121.0 369.4 L121.5 368.8 L122.0 368.5 L122.5 368.9 L123.0 369.7 L123.5 370.7 L124.0 371.7 L124.5 372.3 L124.6 372.4 L125.0 372.2 L125.5 371.9 L126.0 371.6 L126.5 371.4 L127.0 371.3 L127.5 371.3 L128.0 371.5 L128.2 371.5 L128.5 371.6 L129.0 371.2 L129.5 370.7 L130.0 370.6 L130.5 370.9 L131.0 371.2 L131.5 371.0 L131.8 370.8 L132.0 370.6 L132.5 369.8 L133.0 369.0 L133.5 368.1 L134.0 367.4 L134.5 367.3 L135.0 367.7 L135.5 368.4 L136.0 369.4 L136.5 370.1 L137.0 370.4 L137.2 370.4 L137.5 370.4 L138.0 370.9 L138.5 371.6 L139.0 372.2 L139.5 372.4 L140.0 372.6 L140.5 372.6 L141.0 372.5 L141.4 372.3 L141.5 372.2 L142.0 372.4 L142.5 372.4 L143.0 372.0 L143.5 371.2 L144.0 370.5 L144.5 370.1 L144.9 369.9 L145.0 369.9 L145.5 370.0 L146.0 370.4 L146.5 370.9 L147.0 371.3 L147.5 371.6 L147.9 371.7 L148.0 371.7 L148.5 371.7 L149.0 371.4 L149.5 371.0 L150.0 370.4 L150.3 370.2 L150.5 370.2 L151.0 370.8 L151.5 371.6 L152.0 372.1 L152.1 372.1 L152.5 371.7 L153.0 370.6 L153.5 369.4 L154.0 368.5 L154.2 368.4 L154.5 368.4 L155.0 369.0 L155.5 370.0 L156.0 371.2 L156.5 372.4 L157.0 373.3 L157.4 373.3 L157.5 373.2 L158.0 372.8 L158.5 372.4 L159.0 372.2 L159.5 371.9 L160.0 371.8 L160.5 371.9 L161.0 371.9 L161.5 372.1 L161.6 372.1 L162.0 372.6 L162.5 373.6 L163.0 374.6 L163.5 375.5 L164.0 375.9 L164.5 375.8 L165.0 375.6 L165.5 375.4 L166.0 375.2 L166.4 375.0 L166.5 374.9 L167.0 375.1 L167.5 375.6 L168.0 376.9 L168.5 378.1 L168.8 378.7 L169.0 378.8 L169.5 379.1 L170.0 379.4 L170.5 380.1 L171.0 381.0 L171.5 381.7 L172.0 382.0 L172.5 382.3 L173.0 382.6 L173.5 383.0 L174.0 383.3 L174.5 383.8 L175.0 384.2 L175.5 384.6 L176.0 384.9 L176.5 385.2 L177.0 385.6 L177.2 385.7 L177.5 385.9 L178.0 386.3 L178.5 386.6 L179.0 387.0 L179.5 387.2 L180.0 387.4 L180.5 387.6 L181.0 387.8 L181.5 388.0 L182.0 388.3 L182.5 388.9 L183.0 389.4 L183.5 389.9 L184.0 390.4 L184.5 390.8 L185.0 391.0 L185.5 391.2 L186.0 391.4 L186.5 391.5 L187.0 391.6 L187.5 392.0 L188.0 392.5 L188.5 392.8 L189.0 392.9 L189.5 393.1 L190.0 393.5 L190.5 393.9 L190.7 394.1 L191.0 394.3 L191.5 394.5 L192.0 394.7 L192.5 395.0 L193.0 395.5 L193.5 395.9 L194.0 396.5 L194.5 397.2 L195.0 397.6 L195.5 397.7 L196.0 397.9 L196.5 398.3 L197.0 398.7 L197.5 399.1 L198.0 399.1 L198.5 399.1 L199.0 399.3 L199.5 399.7 L200.0 400.0 L200.5 400.5 L201.0 400.9 L201.5 401.4 L202.0 401.8 L202.5 402.3 L203.0 402.6 L203.5 402.8 L204.0 403.1 L204.2 403.3 L204.5 403.7 L205.0 404.2 L205.5 404.5 L206.0 404.7 L206.5 404.8 L207.0 405.5 L207.5 406.2 L208.0 406.7 L208.5 407.0 L209.0 407.4 L209.5 407.5 L210.0 407.6 L210.5 407.7 L211.0 408.4 L211.5 409.0 L212.0 409.4 L212.5 409.6 L213.0 409.9 L213.5 410.4 L214.0 410.9 L214.4 411.3 L214.5 411.3 L215.0 411.4 L215.5 411.4 L216.0 411.8 L216.5 412.3 L217.0 412.7 L217.5 413.1 L218.0 413.4 L218.5 413.4 L219.0 413.2 L219.5 412.9 L220.0 413.3 L220.5 413.6 L221.0 414.0 L221.1 414.1 L221.5 414.5 L222.0 415.0 L222.5 415.2 L223.0 415.3 L223.5 415.5 L224.0 415.8 L224.5 416.1 L225.0 416.2 L225.5 416.2 L226.0 416.2 L226.5 416.1 L227.0 415.9 L227.5 415.9 L227.9 416.1 L228.0 416.1 L228.5 416.4 L229.0 416.2 L229.5 416.0 L230.0 415.8 L230.5 415.8 L231.0 415.8 L231.5 415.7 L232.0 415.5 L232.5 415.4 L233.0 415.4 L233.5 415.3 L234.0 415.1 L234.5 414.7 L235.0 414.3 L235.5 414.1 L236.0 414.0 L236.4 413.9 L236.5 413.8 L237.0 413.4 L237.5 413.0 L238.0 413.1 L238.5 413.5 L239.0 413.8 L239.5 413.0 L240.0 412.2 L240.5 411.6 L241.0 411.2 L241.5 410.9 L242.0 410.5 L242.5 410.1 L243.0 409.7 L243.5 409.4 L244.0 409.1 L244.5 408.9 L244.8 408.7 L245.0 408.6 L245.5 408.3 L246.0 408.1 L246.5 408.0 L247.0 407.8 L247.5 407.4 L248.0 407.0 L248.5 406.7 L249.0 406.4 L249.5 406.1 L250.0 405.7 L250.5 405.2 L251.0 404.9 L251.5 404.7 L252.0 404.5 L252.5 404.4 L253.0 404.3 L253.5 404.1 L254.0 403.6 L254.5 403.1 L255.0 402.8 L255.5 402.5 L256.0 402.2 L256.5 401.6 L257.0 400.9 L257.5 400.7 L258.0 400.8 L258.3 400.8 L258.5 400.9 L259.0 400.6 L259.5 400.2 L260.0 400.0 L260.5 399.8 L261.0 399.7 L261.5 398.9 L262.0 398.0 L262.5 397.3 L263.0 397.4 L263.5 397.5 L264.0 397.4 L264.5 397.1 L265.0 396.8 L265.5 396.5 L266.0 396.2 L266.5 395.9 L267.0 395.5 L267.5 395.1 L268.0 394.9 L268.5 394.7 L269.0 394.6 L269.5 394.3 L270.0 394.1 L270.5 393.8 L271.0 393.4 L271.5 393.0 L271.9 392.8 L272.0 392.7 L272.5 392.4 L273.0 392.1 L273.5 391.8 L274.0 391.5 L274.5 391.2 L275.0 390.9 L275.5 390.6 L276.0 390.4 L276.5 390.1 L277.0 389.8 L277.5 389.4 L278.0 389.0 L278.5 388.5 L279.0 388.0 L279.5 387.9 L280.0 388.1 L280.5 388.4 L281.0 387.8 L281.5 387.1 L282.0 386.5 L282.5 386.5 L283.0 386.6 L283.5 386.3 L283.7 386.2 L284.0 385.9 L284.5 385.5 L285.0 385.5 L285.5 385.4 L286.0 385.3 L286.5 385.0 L287.0 384.7 L287.5 384.5 L288.0 384.5 L288.5 384.4 L289.0 384.1 L289.5 383.8 L290.0 383.5 L290.5 383.2 L291.0 383.0 L291.5 383.1 L292.0 383.2 L292.5 383.2 L293.0 383.2 L293.5 383.2 L294.0 383.0 L294.5 382.7 L295.0 382.4 L295.5 382.3 L296.0 382.1 L296.5 381.9 L297.0 381.6 L297.5 381.4 L298.0 381.4 L298.5 381.5 L299.0 381.5 L299.5 381.5 L300.0 381.4 L300.5 381.2 L301.0 380.9 L301.5 380.6 L302.0 380.7 L302.5 380.7 L303.0 380.5 L303.5 380.2 L304.0 379.9 L304.5 379.8 L305.0 379.8 L305.5 379.7 L306.0 379.5 L306.5 379.4 L307.0 379.4 L307.5 379.5 L308.0 379.6 L308.5 379.8 L309.0 380.0 L309.5 380.1 L310.0 380.2 L310.5 380.2 L310.7 380.2 L311.0 380.2 L311.5 380.2 L312.0 380.0 L312.5 379.7 L313.0 379.4 L313.5 379.3 L314.0 379.2 L314.5 379.1 L315.0 379.1 L315.5 379.1 L316.0 378.8 L316.5 378.4 L317.0 378.0 L317.5 378.3 L317.9 378.6 L318.0 378.7 L318.5 378.9 L319.0 378.7 L319.5 378.5 L320.0 378.4 L320.5 378.3 L321.0 378.2 L321.5 378.0 L322.0 377.8 L322.5 377.9 L323.0 378.1 L323.5 378.3 L323.9 378.2 L324.0 378.1 L324.5 378.1 L325.0 378.3 L325.5 378.9 L326.0 379.5 L326.5 379.7 L327.0 379.9 L327.4 379.9 L327.5 379.9 L328.0 380.0 L328.5 380.1 L329.0 380.6 L329.5 381.4 L330.0 382.2 L330.5 382.5 L331.0 382.8 L331.5 383.1 L331.6 383.2 L332.0 383.5 L332.5 383.9 L333.0 384.3 L333.5 384.7 L334.0 385.1 L334.5 385.5 L335.0 385.9 L335.5 386.4 L335.8 386.7 L336.0 386.9 L336.5 387.5 L337.0 388.2 L337.5 388.8 L338.0 389.5 L338.5 390.2 L339.0 390.9 L339.5 391.5 L340.0 392.1 L340.5 392.9 L341.0 393.9 L341.5 395.0 L342.0 396.2 L342.5 397.5 L342.9 398.5 L343.0 398.8 L343.5 400.2 L344.0 401.7 L344.5 403.2 L345.0 404.5 L345.5 405.7 L345.9 406.5 L346.0 406.7 L346.5 407.7 L347.0 408.4 L347.5 408.5 L347.7 408.4 L348.0 408.3 L348.5 408.5 L349.0 409.0 L349.5 409.4 L350.0 409.5 L350.5 409.5 L350.7 409.5 L351.0 409.4 L351.5 409.2 L352.0 408.8 L352.5 408.4 L353.0 407.3 L353.5 405.6 L354.0 403.7 L354.3 403.0 L354.5 402.7 L355.0 402.1 L355.5 401.6 L356.0 401.2 L356.5 400.7 L356.7 400.5 L357.0 400.2 L357.5 399.8 L358.0 399.6 L358.5 399.4 L359.0 399.1 L359.5 398.8 L360.0 398.3 L360.2 398.2 L360.5 397.8 L361.0 397.1 L361.5 395.9 L362.0 394.5 L362.5 393.2 L363.0 392.3 L363.2 392.0 L363.5 391.5 L364.0 390.8 L364.5 390.2 L365.0 389.7 L365.5 389.2 L366.0 388.8 L366.2 388.8 L366.5 388.8 L367.0 389.1 L367.5 389.4 L368.0 389.3 L368.5 389.3 L369.0 389.6 L369.5 390.5 L370.0 391.2 L370.4 391.4 L370.5 391.3 L371.0 391.1 L371.5 390.9 L372.0 390.9 L372.5 391.0 L373.0 391.1 L373.4 391.1 L373.5 391.1 L374.0 391.0 L374.5 390.7 L375.0 390.4 L375.5 390.1 L376.0 389.3 L376.3 388.8 L376.5 388.6 L377.0 388.1 L377.5 388.0 L378.0 387.9 L378.5 387.4 L379.0 386.8 L379.5 386.2 L379.9 386.0 L380.0 385.9 L380.5 385.6 L381.0 385.0 L381.5 384.4 L382.0 383.7 L382.5 383.1 L383.0 382.5 L383.5 382.0 L384.0 381.7 L384.5 381.3 L385.0 380.8 L385.5 380.5 L386.0 380.1 L386.5 379.6 L387.0 379.2 L387.5 379.2 L388.0 379.5 L388.5 379.8 L389.0 379.6 L389.5 379.3 L390.0 379.3 L390.5 379.8 L390.7 379.9 L391.0 380.2 L391.5 380.3 L392.0 380.3 L392.5 380.3 L393.0 380.5 L393.5 380.7 L394.0 380.8 L394.2 380.8 L394.5 380.7 L395.0 380.4 L395.5 380.0 L396.0 379.6 L396.5 379.0 L397.0 378.5 L397.5 378.1 L397.8 377.9 L398.0 377.8 L398.5 377.5 L399.0 377.2 L399.5 377.3 L400.0 377.3 L400.5 377.2 L401.0 377.0 L401.5 376.8 L402.0 376.7 L402.5 376.7 L403.0 376.6 L403.5 376.3 L403.8 376.2 L404.0 376.1 L404.5 376.1 L405.0 376.2 L405.5 376.2 L406.0 375.9 L406.5 375.6 L407.0 375.9 L407.5 376.5 L408.0 377.1 L408.5 376.4 L409.0 375.7 L409.5 375.3 L410.0 375.3 L410.5 375.3 L411.0 375.5 L411.5 375.6 L412.0 375.8 L412.1 375.8 L412.5 375.8 L413.0 375.8 L413.5 375.6 L414.0 375.2 L414.5 374.8 L415.0 374.7 L415.5 374.5 L416.0 374.4 L416.5 374.4 L417.0 374.4 L417.5 374.4 L418.0 374.4 L418.5 374.4 L419.0 374.4 L419.5 374.4 L420.0 374.5 L420.5 374.5 L421.0 374.6 L421.5 374.7 L422.0 374.8 L422.5 374.9 L423.0 374.9 L423.5 374.9 L424.0 374.6 L424.5 374.3 L425.0 374.1 L425.5 374.2 L426.0 374.4 L426.5 374.4 L427.0 374.5 L427.5 374.5 L428.0 374.5 L428.5 374.6 L429.0 374.5 L429.5 374.2 L430.0 373.9 L430.5 373.8 L431.0 373.6 L431.5 373.6 L432.0 373.8 L432.5 374.0 L433.0 374.1 L433.5 374.2 L434.0 374.2 L434.5 373.9 L435.0 373.5 L435.5 373.5 L436.0 373.8 L436.5 374.2 L437.0 374.2 L437.5 374.1 L438.0 374.0 L438.5 373.6 L439.0 373.3 L439.5 373.0 L440.0 372.8 L440.5 372.5 L441.0 372.7 L441.5 372.8 L442.0 372.8 L442.5 372.8 L443.0 372.8 L443.5 372.9 L444.0 373.0 L444.5 373.0 L445.0 372.7 L445.5 372.3 L446.0 372.5 L446.5 373.1 L447.0 373.7 L447.5 373.6 L448.0 373.6 L448.5 373.4 L449.0 372.9 L449.5 372.3 L450.0 372.1 L450.5 371.9 L451.0 371.7 L451.5 372.0 L452.0 372.2 L452.5 372.3 L453.0 372.4 L453.5 372.4 L454.0 372.5 L454.5 372.6 L455.0 372.6 L455.5 372.5 L456.0 372.4 L456.5 372.2 L457.0 372.0 L457.5 371.8 L458.0 371.5 L458.5 371.2 L459.0 371.2 L459.5 371.6 L460.0 371.9 L460.5 371.9 L461.0 371.9 L461.5 371.8 L462.0 371.6 L462.5 371.4 L463.0 371.4 L463.5 371.5 L464.0 371.5 L464.5 371.4 L465.0 371.4 L465.5 371.3 L466.0 371.2 L466.5 371.1 L467.0 370.9 L467.5 370.8 L468.0 370.7 L468.5 370.9 L469.0 371.1 L469.5 370.9 L470.0 370.7 L470.5 370.5 L471.0 370.9 L471.5 371.3 L472.0 371.3 L472.5 370.9 L473.0 370.5 L473.5 370.7 L474.0 370.9 L474.5 371.0 L475.0 370.8 L475.4 370.7 L475.5 370.6 L476.0 370.8 L476.5 371.1 L477.0 371.5 L477.5 371.6 L478.0 371.8 L478.5 372.1 L479.0 372.4 L479.5 372.6 L480.0 372.5 L480.5 372.1 L481.0 371.9 L481.5 371.6 L482.0 371.4 L482.5 371.6 L483.0 371.9 L483.5 372.2 L484.0 372.1 L484.5 372.1 L485.0 371.9 L485.5 371.6 L486.0 371.3 L486.5 371.4 L487.0 371.6 L487.5 371.6 L488.0 371.4 L488.5 371.1 L489.0 371.4 L489.5 371.9 L490.0 372.2 L490.5 372.2 L491.0 372.1 L491.5 372.2 L492.0 372.4 L492.5 372.6 L493.0 373.4 L493.5 374.3 L494.0 374.6 L494.5 374.3 L494.9 374.0 L495.0 374.0 L495.5 375.7 L496.0 378.9 L496.5 381.9 L497.0 383.6 L497.1 383.7 L497.5 382.8 L498.0 379.8 L498.5 376.2 L499.0 373.7 L499.1 373.5 L499.5 373.0 L500.0 372.4 L500.5 372.1 L501.0 372.3 L501.3 372.5 L501.5 373.4 L502.0 378.5 L502.4 381.0 L502.5 381.0 L503.0 380.1 L503.5 377.7 L504.0 375.0 L504.5 373.4 L505.0 373.1 L505.3 373.3 L505.5 373.6 L506.0 373.5 L506.5 373.5 L507.0 373.5 L507.5 373.6 L508.0 373.6 L508.5 374.1 L509.0 374.7 L509.5 375.1 L510.0 374.8 L510.5 374.5 L511.0 374.6 L511.5 375.1 L512.0 375.6 L512.5 375.4 L513.0 375.2 L513.5 375.1 L514.0 375.3 L514.5 375.4 L515.0 375.7 L515.5 376.0 L516.0 376.2 L516.5 375.9 L517.0 375.5 L517.5 375.2 L518.0 375.1 L518.5 374.9 L519.0 374.3 L519.5 373.6 L520.0 373.1 L520.5 372.7 L521.0 372.3 L521.5 372.1 L522.0 371.7 L522.5 371.3 L523.0 370.4 L523.5 369.7 L524.0 368.9 L524.5 368.2 L524.7 368.0 L525.0 367.8 L525.5 368.5 L526.0 369.5 L526.5 370.9 L527.0 372.8 L527.5 374.2 L527.7 374.3 L528.0 373.4 L528.5 370.6 L529.0 367.1 L529.5 364.5 L530.0 363.4 L530.5 365.8 L531.0 370.8 L531.5 375.5 L531.9 376.7 L532.0 376.6 L532.5 375.7 L533.0 374.3 L533.5 372.6 L534.0 370.7 L534.5 368.8 L535.0 367.1 L535.5 365.6 L535.9 364.5 L536.0 364.3 L536.5 363.3 L537.0 362.0 L537.5 360.7 L538.0 359.6 L538.5 359.4 L538.9 359.6 L539.0 359.8 L539.5 362.3 L540.0 366.2 L540.4 369.2 L540.5 369.9 L541.0 374.1 L541.5 378.6 L542.0 381.8 L542.3 382.4 L542.5 382.2 L543.0 379.6 L543.5 375.7 L544.0 372.3 L544.4 371.2 L544.5 371.3 L545.0 375.5 L545.5 379.6 L545.6 379.8 L546.0 378.8 L546.5 375.8 L546.5 375.3 L547.0 364.0 L547.1 363.3 L547.5 367.1 L548.0 373.2 L548.1 373.3 L548.5 364.8 L548.8 360.4 L549.0 360.9 L549.3 362.4 L549.5 365.4 L550.0 381.7 L550.5 392.1 L551.0 377.9 L551.2 372.8 L551.5 365.5 L552.0 359.1 L552.5 370.6 L552.7 373.1 L553.0 365.8 L553.4 355.6 L553.5 356.2 L554.0 368.6 L554.3 373.2 L554.5 372.0 L555.0 363.6 L555.3 360.8 L555.5 361.9 L556.0 369.2 L556.1 370.0 L556.5 374.2 L556.8 375.6 L557.0 375.6 L557.5 374.9 L558.0 373.5 L558.5 372.2 L559.0 371.5 L559.5 371.2 L560.0 371.2 L560.5 371.6 L561.0 372.1 L561.5 372.8 L562.0 373.6 L562.5 374.3 L563.0 375.3 L563.5 376.2 L564.0 377.0 L564.5 377.5 L565.0 377.8 L565.5 377.5 L566.0 376.4 L566.5 374.8 L567.0 372.4 L567.5 369.8 L568.0 367.8 L568.5 367.6 L568.7 367.7 L569.0 368.3 L569.5 370.1 L570.0 372.3 L570.5 374.2 L571.0 375.4 L571.5 375.0 L572.0 373.3 L572.5 370.4 L573.0 367.5 L573.5 365.3 L574.0 364.1 L574.2 364.0 L574.5 364.2 L575.0 365.4 L575.5 367.5 L576.0 370.5 L576.5 373.6 L577.0 376.2 L577.5 377.4 L577.7 377.5 L578.0 374.8 L578.5 364.0 L579.0 357.4 L579.5 367.5 L579.9 375.9 L580.0 375.5 L580.5 359.9 L580.6 358.9 L581.0 363.0 L581.5 370.1 L581.6 370.4 L582.0 362.1 L582.4 354.2 L582.5 353.6 L583.0 352.2 L583.2 352.2 L583.5 354.2 L583.8 358.5 L584.0 361.8 L584.5 374.6 L584.6 375.6 L585.0 379.6 L585.1 379.9 L585.5 375.2 L586.0 362.7 L586.5 353.4 L586.6 353.0 L587.0 356.0 L587.1 357.9 L587.5 367.8 L588.0 383.6 L588.1 384.4 L588.5 373.5 L588.9 362.0 L589.0 362.5 L589.5 374.7 L589.7 377.7 L590.0 367.9 L590.3 356.1 L590.5 357.4 L591.0 368.1 L591.4 374.3 L591.5 374.5 L592.0 375.7 L592.5 376.4 L592.6 376.5 L593.0 376.1 L593.5 375.1 L593.9 374.0 L594.0 373.5 L594.5 368.6 L594.8 367.0 L595.0 368.0 L595.5 374.0 L595.7 375.0 L596.0 371.6 L596.5 364.3 L596.5 364.3 L597.0 373.1 L597.5 382.5 L598.0 368.3 L598.2 364.9 L598.5 368.8 L599.0 379.1 L599.1 379.6 L599.5 371.4 L600.0 360.3 L600.5 371.2 L600.9 377.9 L601.0 376.9 L601.5 366.0 L601.7 363.2 L602.0 360.6 L602.5 358.1 L602.6 358.0 L603.0 359.1 L603.4 362.1 L603.5 362.8 L604.0 371.2 L604.5 377.3 L605.0 377.9 L605.5 378.4 L606.0 378.8 L606.5 379.0 L606.7 379.1 L607.0 378.7 L607.5 376.6 L608.0 373.6 L608.5 370.5 L609.0 368.0 L609.5 366.6 L609.7 366.4 L610.0 366.5 L610.5 367.5 L611.0 369.2 L611.5 371.2 L612.0 373.0 L612.5 374.0 L612.7 374.2 L613.0 374.2 L613.5 374.2 L614.0 374.2 L614.5 374.2 L615.0 373.9 L615.5 373.6 L616.0 373.1 L616.5 372.8 L617.0 372.5 L617.5 372.3 L618.0 372.1 L618.5 371.9 L619.0 372.0 L619.5 372.1 L620.0 372.2 L620.5 371.9 L621.0 371.7 L621.5 371.6 L621.6 371.6 L622.0 371.6 L622.5 371.5 L623.0 371.7 L623.5 371.9 L624.0 372.0 L624.5 372.0 L625.0 371.9 L625.5 372.1 L626.0 372.4 L626.5 372.6 L627.0 372.9 L627.5 373.1 L628.0 373.0 L628.5 372.7 L629.0 372.4 L629.1 372.4 L629.5 372.5 L630.0 372.6 L630.5 372.6 L631.0 372.4 L631.5 372.2 L632.0 372.4 L632.5 372.7 L633.0 373.0 L633.5 372.9 L634.0 372.9 L634.5 372.9 L635.0 372.9 L635.5 372.9 L636.0 372.8 L636.5 372.8 L636.9 372.8 L637.0 373.0 L637.5 373.5 L638.0 374.1 L638.5 373.9 L639.0 373.4 L639.5 373.1 L640.0 373.2 L640.5 373.3 L641.0 373.5 L641.5 373.7 L642.0 373.9 L642.5 374.0 L643.0 374.1 L643.5 374.1 L644.0 374.2 L644.5 374.2 L645.0 374.2 L645.5 374.2 L646.0 374.2 L646.5 374.1 L647.0 373.9 L647.5 374.1 L648.0 374.4 L648.5 374.6 L649.0 374.6 L649.5 374.5 L650.0 374.4 L650.5 374.2 L651.0 374.0 L651.5 374.3 L652.0 374.8 L652.5 375.2 L653.0 374.9 L653.5 374.6 L653.8 374.6 L654.0 374.7 L654.5 374.9 L655.0 375.1 L655.5 374.8 L656.0 374.5 L656.5 374.3 L657.0 374.3 L657.5 374.4 L658.0 374.5 L658.5 374.6 L659.0 374.7 L659.5 374.7 L660.0 374.7 L660.5 374.9 L661.0 375.2 L661.5 375.5 L662.0 375.1 L662.5 374.8 L663.0 374.7 L663.5 375.0 L664.0 375.3 L664.5 375.3 L665.0 375.2 L665.5 375.1 L665.6 375.2 L666.0 375.4 L666.5 375.7 L667.0 375.9 L667.5 376.0 L668.0 376.1 L668.5 376.2 L669.0 376.3 L669.5 376.6 L670.0 377.2 L670.5 377.9 L671.0 378.0 L671.5 378.0 L672.0 378.1 L672.5 378.6 L673.0 379.2 L673.5 379.4 L674.0 379.4 L674.1 379.5 L674.5 379.6 L675.0 380.4 L675.5 381.4 L676.0 382.5 L676.5 383.7 L677.0 385.0 L677.5 386.5 L678.0 388.6 L678.5 391.7 L679.0 395.5 L679.5 399.7 L680.0 404.2 L680.5 409.8 L681.0 416.6 L681.5 423.6 L682.0 429.5 L682.2 431.3 L682.5 433.7 L683.0 437.7 L683.5 440.6 L683.9 441.4 L684.0 441.3 L684.5 439.6 L685.0 436.4 L685.5 432.8 L685.6 432.1 L686.0 429.1 L686.5 424.7 L687.0 420.2 L687.5 416.6 L687.6 416.1 L688.0 414.1 L688.5 411.6 L689.0 409.4 L689.5 407.8 L690.0 406.9 L690.2 406.8 L690.5 406.8 L691.0 407.0 L691.5 407.2 L692.0 407.4 L692.5 407.5 L693.0 407.6 L693.5 406.5 L694.0 403.8 L694.5 400.3 L695.0 396.9 L695.5 394.6 L695.7 394.1 L696.0 393.7 L696.5 393.2 L697.0 392.8 L697.5 392.5 L698.0 392.2 L698.5 391.7 L698.6 391.6 L699.0 391.0 L699.5 390.0 L700.0 388.9 L700.5 387.7 L701.0 386.6 L701.5 385.8 L702.0 385.3 L702.5 385.0 L703.0 384.8 L703.5 384.6 L704.0 384.4 L704.5 384.2 L705.0 384.1 L705.5 384.0 L706.0 384.0 L706.2 384.0 L706.5 384.1 L707.0 384.4 L707.5 385.1 L708.0 386.0 L708.5 387.1 L709.0 388.3 L709.5 389.6 L709.6 389.9 L710.0 391.2 L710.5 393.2 L711.0 395.8 L711.5 398.6 L711.6 399.2 L712.0 402.5 L712.5 408.0 L713.0 413.5 L713.5 417.4 L713.8 418.1 L714.0 417.6 L714.5 413.4 L715.0 406.6 L715.5 399.9 L716.0 395.8 L716.5 394.1 L717.0 392.9 L717.5 391.8 L718.0 390.9 L718.1 390.7 L718.5 389.9 L719.0 388.8 L719.5 387.7 L720.0 386.7 L720.5 385.9 L721.0 385.4 L721.4 385.3 L721.5 385.3 L722.0 385.4 L722.5 385.5 L723.0 385.7 L723.5 386.0 L724.0 386.4 L724.5 386.8 L725.0 387.3 L725.5 387.8 L726.0 388.4 L726.5 389.0 L727.0 390.1 L727.5 392.0 L728.0 394.3 L728.5 396.8 L729.0 399.3 L729.5 401.4 L729.9 402.6 L730.0 402.8 L730.5 403.9 L731.0 404.8 L731.5 405.7 L732.0 406.4 L732.5 407.2 L733.0 408.0 L733.3 408.5 L733.5 408.9 L734.0 410.0 L734.5 411.2 L735.0 412.4 L735.5 413.3 L736.0 413.9 L736.3 414.0 L736.5 413.9 L737.0 412.7 L737.5 410.7 L738.0 408.3 L738.5 406.1 L739.0 404.5 L739.2 404.2 L739.5 403.9 L740.0 403.4 L740.5 403.0 L741.0 402.8 L741.5 402.6 L741.7 402.6 L742.0 402.8 L742.5 403.9 L743.0 405.5 L743.5 407.3 L744.0 408.9 L744.5 410.0 L744.8 410.2 L745.0 410.1 L745.5 409.6 L746.0 408.6 L746.5 407.3 L747.0 406.2 L747.5 405.2 L747.6 405.1 L748.0 404.6 L748.5 404.0 L749.0 403.3 L749.5 402.7 L750.0 402.2 L750.5 401.7 L751.0 401.2 L751.5 400.9 L752.0 400.6 L752.5 400.5 L752.7 400.5 L753.0 400.6 L753.5 401.4 L754.0 402.5 L754.5 403.9 L755.0 405.4 L755.2 405.9 L755.5 406.8 L756.0 408.7 L756.5 410.9 L757.0 413.0 L757.5 414.8 L758.0 415.9 L758.3 416.1 L758.5 416.1 L759.0 415.8 L759.5 415.3 L760.0 414.6 L760.5 413.8 L761.0 413.0 L761.2 412.7 L761.5 412.2 L762.0 411.1 L762.5 409.8 L763.0 408.5 L763.5 407.3 L764.0 406.4 L764.5 405.9 L765.0 405.7 L765.5 405.5 L766.0 405.3 L766.5 405.2 L767.0 405.1 L767.5 405.0 L768.0 404.8 L768.5 404.7 L768.8 404.6 L769.0 404.5 L769.5 404.4 L770.0 404.2 L770.5 404.0 L771.0 403.9 L771.5 403.7 L772.0 403.5 L772.5 403.3 L773.0 403.1 L773.5 402.8 L773.8 402.6 L774.0 402.5 L774.5 402.0 L775.0 401.4 L775.5 400.8 L776.0 400.1 L776.5 399.3 L777.0 398.6 L777.2 398.3 L777.5 397.8 L778.0 396.8 L778.5 395.7 L779.0 394.8 L779.5 394.2 L779.8 394.1 L780.0 394.2 L780.5 395.7 L781.0 397.9 L781.5 400.4 L782.0 402.2 L782.4 402.8 L782.5 402.8 L783.0 401.9 L783.5 400.2 L784.0 398.2 L784.5 396.4 L785.0 395.5 L785.5 395.2 L786.0 394.8 L786.5 394.5 L787.0 394.3 L787.5 394.0 L788.0 393.8 L788.5 393.6 L789.0 393.4 L789.5 393.3 L790.0 393.1 L790.5 393.0 L791.0 392.9 L791.5 392.8 L792.0 392.8 L792.5 392.7 L793.0 392.7 L793.2 392.7 L793.5 392.7 L794.0 392.9 L794.5 393.2 L795.0 393.7 L795.5 394.2 L796.0 394.9 L796.5 395.6 L797.0 396.4 L797.5 397.3 L797.8 397.8 L798.0 398.2 L798.5 399.6 L799.0 401.4 L799.5 403.5 L800.0 405.7 L800.3 407.0 L800.5 408.0 L801.0 411.2 L801.5 414.8 L802.0 418.1 L802.5 420.2 L802.8 420.6 L803.0 420.5 L803.5 419.3 L804.0 417.2 L804.5 414.5 L805.0 411.5 L805.5 408.8 L806.0 406.7 L806.5 405.5 L806.7 405.4 L807.0 405.7 L807.5 407.6 L808.0 410.4 L808.4 413.0 L808.5 413.7 L809.0 418.9 L809.5 426.0 L810.0 433.5 L810.4 439.2 L810.5 440.5 L811.0 448.0 L811.5 455.2 L812.0 460.8 L812.1 461.5 L812.5 464.1 L813.0 466.8 L813.5 467.9 L814.0 467.6 L814.5 466.8 L815.0 465.8 L815.5 464.6 L816.0 463.5 L816.5 462.6 L817.0 462.0 L817.2 462.0 L817.5 462.2 L818.0 463.4 L818.5 465.1 L819.0 466.8 L819.5 467.8 L819.7 467.9 L820.0 467.8 L820.5 467.3 L821.0 466.6 L821.5 466.0 L822.0 465.5 L822.3 465.4 L822.5 465.4 L823.0 465.9 L823.5 466.8 L824.0 467.9 L824.5 469.2 L825.0 470.6 L825.5 471.9 L825.6 472.1 L826.0 473.0 L826.5 474.1 L827.0 475.2 L827.5 476.6 L828.0 478.3 L828.4 480.0 L828.5 480.5 L829.0 484.9 L829.5 491.1 L830.0 497.9 L830.4 503.0 L830.5 504.3 L831.0 511.9 L831.5 518.8 L831.9 521.1 L832.0 521.0 L832.5 517.4 L833.0 511.1 L833.5 505.1 L833.6 504.2 L834.0 500.5 L834.5 496.3 L834.9 494.9 L835.0 494.9 L835.5 496.5 L836.0 499.8 L836.5 504.1 L837.0 508.6 L837.5 512.7 L838.0 516.5 L838.5 520.5 L839.0 524.6 L839.5 528.8 L840.0 532.9 L840.5 536.8 L840.9 539.7 L841.0 540.4 L841.5 544.2 L842.0 547.9 L842.5 551.4 L843.0 554.2 L843.4 555.8 L843.5 556.1 L844.0 557.5 L844.5 558.3 L844.6 558.3 L845.0 558.1 L845.5 557.5 L846.0 556.6 L846.5 555.7 L847.0 554.8 L847.5 554.2 L847.6 554.1 L848.0 553.8 L848.5 553.5 L849.0 553.3 L849.3 553.3 L849.5 553.4 L850.0 554.1 L850.5 555.2 L851.0 556.1 L851.3 556.3 L851.5 556.2 L852.0 555.4 L852.5 553.8 L853.0 551.6 L853.5 544.8 L854.0 533.2 L854.4 524.5 L854.5 522.7 L855.0 513.1 L855.5 503.3 L856.0 494.3 L856.5 486.6 L856.9 482.0 L857.0 481.1 L857.5 476.3 L858.0 472.0 L858.5 468.4 L859.0 465.9 L859.5 465.0 L860.0 466.4 L860.5 470.0 L861.0 474.5 L861.5 478.9 L862.0 482.0 L862.5 484.2 L863.0 486.3 L863.5 488.0 L864.0 488.9 L864.2 489.0 L864.5 488.2 L865.0 484.4 L865.5 478.8 L866.0 473.1 L866.2 471.3 L866.5 468.8 L867.0 464.6 L867.5 460.6 L867.9 457.8 L868.0 457.1 L868.5 453.8 L869.0 450.3 L869.5 446.9 L870.0 443.8 L870.5 440.9 L871.0 438.6 L871.5 436.9 L872.0 435.9 L872.1 435.8 L872.5 435.5 L873.0 435.3 L873.5 435.1 L874.0 435.0 L874.5 434.9 L875.0 434.7 L875.5 434.6 L876.0 434.3 L876.4 434.1 L876.5 434.0 L877.0 433.3 L877.5 432.2 L878.0 430.8 L878.5 429.2 L879.0 427.6 L879.5 426.1 L879.7 425.6 L880.0 424.8 L880.5 423.2 L881.0 421.5 L881.5 419.8 L882.0 418.0 L882.5 416.4 L883.0 414.9 L883.5 413.6 L884.0 412.7 L884.5 412.2 L884.8 412.1 L885.0 412.1 L885.5 412.6 L886.0 413.6 L886.5 414.7 L886.8 415.5 L887.0 416.2 L887.5 419.3 L888.0 423.9 L888.5 429.2 L889.0 434.7 L889.5 439.7 L890.0 443.6 L890.5 445.7 L890.7 445.9 L891.0 445.7 L891.5 444.7 L892.0 442.9 L892.5 440.8 L893.0 438.5 L893.5 436.3 L894.0 434.4 L894.1 434.1 L894.5 432.9 L895.0 431.3 L895.5 429.6 L896.0 428.0 L896.5 426.3 L897.0 424.8 L897.5 423.4 L898.0 422.2 L898.5 421.2 L899.0 420.6 L899.5 420.2 L899.7 420.2 L900.0 420.6 L900.5 422.4 L901.0 424.7 L901.5 426.3 L901.7 426.5 L902.0 426.3 L902.5 424.9 L903.0 422.8 L903.5 420.4 L904.0 418.0 L904.5 416.1 L905.0 415.2 L905.1 415.2 L905.5 415.6 L906.0 417.2 L906.5 419.2 L907.0 421.3 L907.5 422.9 L907.6 423.1 L908.0 423.8 L908.5 424.6 L909.0 425.4 L909.5 426.0 L910.0 426.5 L910.5 427.0 L911.0 427.3 L911.5 427.5 L912.0 427.6 L912.5 427.8 L913.0 427.9 L913.5 428.1 L913.6 428.2 L914.0 429.3 L914.5 432.3 L915.0 436.4 L915.5 440.7 L916.0 444.1 L916.5 445.8 L916.6 445.9 L917.0 445.4 L917.5 443.6 L918.0 441.1 L918.5 438.4 L919.0 436.2 L919.5 434.9 L920.0 434.3 L920.5 433.8 L921.0 433.3 L921.5 432.9 L922.0 432.6 L922.5 432.4 L923.0 432.2 L923.5 432.1 L923.7 432.1 L924.0 432.2 L924.5 432.7 L925.0 433.7 L925.5 435.0 L926.0 436.4 L926.5 438.0 L927.0 439.7 L927.1 440.0 L927.5 441.7 L928.0 444.6 L928.5 448.1 L929.0 451.8 L929.5 455.3 L930.0 458.3 L930.5 460.3 L931.0 461.1 L931.5 460.7 L932.0 459.7 L932.5 458.3 L933.0 456.7 L933.5 455.1 L934.0 453.7 L934.5 452.9 L934.7 452.7 L935.0 452.5 L935.5 452.3 L936.0 452.1 L936.5 452.0 L937.0 451.9 L937.2 451.9 L937.5 452.5 L938.0 455.0 L938.5 457.7 L938.9 458.6 L939.0 458.5 L939.5 454.9 L940.0 450.4 L940.3 449.3 L940.5 449.6 L941.0 452.6 L941.5 456.9 L942.0 460.3 L942.5 462.5 L943.0 464.4 L943.5 466.1 L944.0 467.4 L944.3 467.9"/>
<path class="c" stroke="#800000" d="M70.0 517.7 L70.5 517.8 L71.0 518.0 L71.5 518.0 L72.0 517.8 L72.5 517.6 L73.0 517.6 L73.5 517.5 L74.0 517.4 L74.5 517.2 L75.0 516.9 L75.5 516.8 L76.0 516.7 L76.5 516.7 L77.0 517.1 L77.5 517.5 L78.0 517.8 L78.5 517.9 L79.0 518.0 L79.5 517.9 L80.0 517.8 L80.5 517.7 L81.0 517.8 L81.5 517.8 L82.0 517.7 L82.5 517.3 L82.9 517.1 L83.0 517.0 L83.5 517.1 L84.0 517.2 L84.5 517.3 L85.0 517.4 L85.5 517.5 L86.0 517.5 L86.5 517.5 L87.0 517.5 L87.5 517.9 L88.0 518.3 L88.5 518.2 L89.0 517.7 L89.5 517.3 L90.0 517.4 L90.5 517.6 L91.0 517.7 L91.5 517.8 L92.0 517.9 L92.4 517.8 L92.5 517.8 L93.0 516.8 L93.5 515.2 L94.0 513.9 L94.5 513.2 L94.6 513.3 L95.0 513.7 L95.5 515.0 L96.0 516.2 L96.3 516.9 L96.5 517.1 L97.0 517.6 L97.5 517.8 L98.0 517.6 L98.5 517.3 L99.0 517.0 L99.5 516.7 L100.0 516.3 L100.5 516.2 L100.8 516.1 L101.0 516.0 L101.5 515.4 L102.0 514.6 L102.5 513.8 L103.0 512.9 L103.2 512.7 L103.5 512.7 L104.0 513.7 L104.5 515.2 L105.0 515.9 L105.5 515.3 L106.0 513.7 L106.5 511.8 L107.0 510.2 L107.5 509.4 L107.6 509.4 L108.0 510.1 L108.5 512.4 L109.0 515.1 L109.5 517.0 L109.7 517.2 L110.0 516.9 L110.5 516.0 L111.0 514.8 L111.5 513.7 L112.0 512.9 L112.1 512.8 L112.5 512.7 L113.0 512.8 L113.5 513.3 L114.0 513.9 L114.5 514.2 L115.0 514.3 L115.1 514.3 L115.5 513.8 L116.0 512.1 L116.5 510.5 L116.9 509.9 L117.0 509.9 L117.5 511.1 L118.0 513.0 L118.5 515.0 L119.0 516.3 L119.3 516.6 L119.5 516.5 L120.0 515.8 L120.5 514.7 L121.0 513.6 L121.5 512.7 L122.0 512.2 L122.3 511.9 L122.5 512.0 L123.0 512.8 L123.5 514.2 L124.0 515.8 L124.5 516.6 L124.6 516.6 L125.0 516.3 L125.5 515.7 L126.0 515.2 L126.5 515.3 L127.0 515.4 L127.5 515.1 L128.0 514.6 L128.2 514.4 L128.5 514.2 L129.0 514.4 L129.5 514.7 L130.0 515.0 L130.5 515.4 L131.0 515.8 L131.5 515.9 L131.8 515.9 L132.0 515.8 L132.5 514.6 L133.0 512.4 L133.5 510.0 L134.0 508.1 L134.5 507.3 L135.0 507.8 L135.5 509.7 L136.0 512.0 L136.5 514.1 L137.0 515.3 L137.2 515.6 L137.5 515.8 L138.0 516.3 L138.5 516.8 L139.0 517.2 L139.5 517.3 L140.0 517.3 L140.5 517.7 L141.0 518.3 L141.5 518.8 L142.0 519.0 L142.5 519.1 L143.0 518.6 L143.5 517.4 L144.0 515.9 L144.5 515.0 L145.0 514.4 L145.5 514.2 L146.0 514.5 L146.5 515.1 L147.0 516.0 L147.5 516.8 L147.9 517.1 L148.0 517.2 L148.5 516.1 L149.0 514.4 L149.5 513.1 L150.0 512.6 L150.3 512.6 L150.5 512.9 L151.0 514.2 L151.5 515.7 L152.0 516.7 L152.1 516.7 L152.5 516.0 L153.0 513.7 L153.5 511.4 L154.0 510.0 L154.2 509.9 L154.5 510.2 L155.0 510.6 L155.5 511.6 L156.0 513.0 L156.5 514.8 L157.0 516.5 L157.5 517.7 L158.0 518.2 L158.5 517.9 L159.0 517.1 L159.5 515.9 L160.0 514.4 L160.5 512.8 L161.0 511.7 L161.4 511.3 L161.5 511.4 L162.0 512.5 L162.5 514.9 L163.0 517.6 L163.5 519.7 L163.8 520.0 L164.0 519.9 L164.5 519.0 L165.0 517.8 L165.5 516.6 L166.0 515.6 L166.4 515.4 L166.5 515.4 L167.0 516.9 L167.5 519.4 L168.0 521.8 L168.5 522.9 L169.0 523.0 L169.5 523.0 L170.0 522.9 L170.5 522.0 L171.0 521.1 L171.2 520.8 L171.5 520.7 L172.0 521.2 L172.5 522.0 L173.0 522.8 L173.5 523.6 L174.0 524.4 L174.5 525.2 L175.0 526.0 L175.5 526.7 L175.9 527.3 L176.0 527.4 L176.5 528.0 L177.0 528.3 L177.5 528.4 L178.0 528.5 L178.5 528.7 L179.0 528.9 L179.5 529.0 L180.0 529.0 L180.5 528.9 L181.0 529.0 L181.5 529.1 L182.0 529.3 L182.5 529.7 L183.0 530.1 L183.5 530.3 L184.0 530.4 L184.3 530.4 L184.5 530.5 L185.0 530.7 L185.5 530.9 L186.0 531.3 L186.5 531.8 L187.0 532.3 L187.5 532.2 L188.0 532.2 L188.5 532.3 L189.0 532.7 L189.5 533.0 L190.0 533.5 L190.5 534.1 L190.7 534.3 L191.0 534.5 L191.5 534.7 L192.0 534.8 L192.5 535.1 L193.0 535.5 L193.5 535.9 L194.0 535.9 L194.5 535.9 L195.0 536.1 L195.5 536.7 L196.0 537.2 L196.5 537.4 L197.0 537.4 L197.5 537.5 L198.0 538.2 L198.5 538.8 L199.0 539.2 L199.5 539.4 L200.0 539.6 L200.5 539.8 L201.0 540.0 L201.5 540.3 L202.0 540.8 L202.5 541.3 L203.0 541.5 L203.5 541.6 L204.0 541.7 L204.2 541.7 L204.5 541.8 L205.0 541.9 L205.5 542.4 L206.0 543.1 L206.5 543.8 L207.0 544.0 L207.5 544.1 L208.0 544.4 L208.5 544.9 L209.0 545.4 L209.5 545.6 L210.0 545.8 L210.5 546.0 L211.0 546.5 L211.5 547.0 L212.0 547.2 L212.5 547.2 L213.0 547.1 L213.5 547.4 L214.0 547.6 L214.4 547.8 L214.5 547.8 L215.0 548.1 L215.5 548.4 L216.0 548.9 L216.5 549.6 L217.0 550.1 L217.5 549.9 L218.0 549.7 L218.5 549.8 L219.0 550.0 L219.5 550.3 L220.0 550.6 L220.5 550.9 L221.0 551.2 L221.1 551.3 L221.5 551.7 L222.0 552.2 L222.5 552.4 L223.0 552.7 L223.5 552.8 L224.0 552.8 L224.5 552.7 L225.0 553.0 L225.5 553.4 L226.0 553.7 L226.5 553.7 L227.0 553.7 L227.1 553.6 L227.5 553.7 L228.0 553.8 L228.5 553.9 L229.0 553.9 L229.5 553.8 L230.0 553.7 L230.5 553.4 L231.0 553.0 L231.5 552.9 L232.0 553.0 L232.5 553.1 L233.0 553.0 L233.5 552.8 L234.0 552.8 L234.5 552.8 L234.7 552.8 L235.0 552.8 L235.5 552.7 L236.0 552.5 L236.5 552.3 L237.0 552.1 L237.5 551.9 L238.0 551.7 L238.5 551.6 L239.0 551.5 L239.5 551.2 L240.0 550.8 L240.5 550.6 L241.0 550.4 L241.4 550.4 L241.5 550.3 L242.0 550.0 L242.5 549.6 L243.0 549.3 L243.5 549.0 L244.0 548.7 L244.5 548.5 L245.0 548.4 L245.5 548.2 L246.0 547.9 L246.5 547.6 L247.0 547.3 L247.5 547.0 L248.0 546.8 L248.5 546.4 L249.0 545.9 L249.5 545.5 L250.0 545.0 L250.5 544.5 L251.0 544.2 L251.5 543.9 L252.0 543.6 L252.5 543.3 L253.0 543.0 L253.5 542.5 L254.0 541.9 L254.5 541.2 L255.0 541.0 L255.5 540.8 L256.0 540.7 L256.5 540.8 L257.0 541.0 L257.5 540.7 L258.0 540.2 L258.5 539.6 L259.0 538.8 L259.5 538.0 L260.0 537.7 L260.5 537.8 L261.0 538.0 L261.5 537.9 L262.0 537.6 L262.5 537.3 L263.0 536.8 L263.5 536.3 L264.0 536.3 L264.5 536.6 L265.0 536.9 L265.5 536.5 L266.0 536.0 L266.5 535.6 L267.0 535.3 L267.5 535.0 L268.0 534.6 L268.5 534.1 L269.0 533.8 L269.5 533.6 L270.0 533.5 L270.5 533.3 L271.0 533.1 L271.5 532.9 L272.0 532.6 L272.5 532.2 L273.0 531.8 L273.5 531.4 L274.0 530.9 L274.5 530.7 L275.0 530.6 L275.5 530.5 L276.0 530.2 L276.5 530.0 L277.0 529.7 L277.5 529.5 L278.0 529.3 L278.5 528.9 L279.0 528.4 L279.5 528.1 L280.0 528.2 L280.5 528.2 L281.0 528.0 L281.5 527.7 L282.0 527.5 L282.5 527.4 L283.0 527.3 L283.5 527.1 L283.7 527.1 L284.0 527.0 L284.5 526.8 L285.0 526.4 L285.5 526.0 L286.0 525.8 L286.5 526.1 L287.0 526.4 L287.5 526.3 L288.0 526.1 L288.5 525.9 L289.0 525.4 L289.5 525.0 L290.0 524.8 L290.5 525.0 L291.0 525.1 L291.5 524.8 L292.0 524.6 L292.5 524.5 L293.0 524.4 L293.5 524.4 L294.0 524.6 L294.5 524.7 L295.0 524.9 L295.5 524.7 L296.0 524.6 L296.5 524.6 L297.0 524.9 L297.5 525.1 L298.0 524.7 L298.5 524.3 L299.0 524.0 L299.5 523.8 L300.0 523.5 L300.5 523.6 L301.0 523.7 L301.5 523.6 L302.0 523.1 L302.5 522.5 L303.0 522.6 L303.5 523.2 L304.0 523.8 L304.5 523.4 L305.0 523.1 L305.5 522.9 L306.0 522.9 L306.5 523.0 L307.0 523.0 L307.5 523.0 L308.0 523.0 L308.5 522.9 L309.0 522.8 L309.5 522.9 L310.0 523.1 L310.5 523.3 L311.0 523.2 L311.5 523.2 L311.9 523.1 L312.0 523.1 L312.5 523.1 L313.0 523.1 L313.5 523.1 L314.0 523.1 L314.5 523.0 L315.0 522.5 L315.5 522.0 L316.0 522.1 L316.5 522.4 L317.0 522.7 L317.5 522.2 L317.9 521.7 L318.0 521.6 L318.5 521.4 L319.0 521.7 L319.5 522.0 L320.0 521.8 L320.5 521.6 L321.0 521.3 L321.5 521.2 L322.0 521.1 L322.5 521.2 L323.0 521.4 L323.5 521.7 L323.9 521.7 L324.0 521.7 L324.5 521.7 L325.0 521.7 L325.5 521.8 L326.0 521.9 L326.5 522.2 L327.0 522.5 L327.5 522.7 L328.0 522.9 L328.5 523.1 L329.0 523.6 L329.5 524.2 L330.0 524.9 L330.5 525.3 L331.0 525.6 L331.5 526.1 L331.6 526.2 L332.0 526.6 L332.5 527.0 L333.0 527.6 L333.5 528.1 L334.0 528.5 L334.5 528.5 L335.0 528.5 L335.5 528.8 L335.8 529.2 L336.0 529.4 L336.5 530.1 L337.0 530.6 L337.5 531.2 L338.0 531.8 L338.5 532.5 L339.0 533.1 L339.5 533.8 L340.0 534.5 L340.5 535.3 L341.0 536.5 L341.5 537.7 L342.0 538.9 L342.5 540.0 L342.9 541.0 L343.0 541.2 L343.5 542.3 L344.0 543.4 L344.5 544.4 L345.0 545.3 L345.5 546.1 L345.9 547.0 L346.0 547.3 L346.5 548.6 L347.0 549.7 L347.5 550.5 L348.0 551.1 L348.3 551.4 L348.5 551.5 L349.0 551.8 L349.5 552.1 L350.0 552.2 L350.5 552.2 L350.7 552.1 L351.0 552.0 L351.5 551.8 L352.0 551.3 L352.5 551.1 L352.7 551.0 L353.0 550.6 L353.5 549.1 L354.0 547.0 L354.5 545.4 L354.6 545.3 L355.0 544.7 L355.5 544.1 L356.0 543.6 L356.5 543.1 L357.0 542.6 L357.3 542.3 L357.5 542.3 L358.0 542.4 L358.5 542.5 L359.0 542.2 L359.5 541.7 L360.0 541.2 L360.2 541.1 L360.5 541.0 L361.0 540.5 L361.5 539.6 L362.0 538.3 L362.5 537.0 L363.0 536.4 L363.2 536.2 L363.5 535.9 L364.0 535.4 L364.5 534.7 L365.0 534.1 L365.5 533.9 L365.6 533.9 L366.0 533.9 L366.5 533.9 L367.0 533.5 L367.5 533.2 L368.0 533.3 L368.5 533.8 L369.0 534.6 L369.5 535.1 L370.0 535.4 L370.4 535.4 L370.5 535.4 L371.0 535.3 L371.5 535.1 L372.0 535.2 L372.5 535.3 L373.0 535.4 L373.4 535.2 L373.5 535.1 L374.0 534.8 L374.5 534.0 L375.0 533.0 L375.5 532.0 L376.0 531.9 L376.3 531.8 L376.5 531.8 L377.0 531.8 L377.5 531.5 L378.0 531.3 L378.5 531.1 L379.0 530.8 L379.5 530.6 L379.9 530.6 L380.0 530.6 L380.5 530.5 L381.0 529.8 L381.5 528.7 L382.0 527.6 L382.5 527.1 L383.0 526.7 L383.5 526.2 L384.0 525.5 L384.5 524.8 L385.0 524.5 L385.5 524.2 L386.0 524.0 L386.5 524.0 L387.0 524.1 L387.5 524.1 L388.0 524.1 L388.5 524.1 L389.0 524.0 L389.5 524.0 L390.0 524.0 L390.5 524.1 L390.7 524.2 L391.0 524.3 L391.5 524.5 L392.0 524.8 L392.5 525.1 L393.0 525.4 L393.5 525.7 L394.0 525.7 L394.2 525.6 L394.5 525.5 L395.0 525.2 L395.5 525.0 L396.0 524.8 L396.5 524.5 L397.0 523.9 L397.5 523.5 L397.8 523.4 L398.0 523.4 L398.5 523.3 L399.0 523.3 L399.5 523.1 L400.0 523.0 L400.5 522.7 L401.0 522.4 L401.5 522.1 L402.0 521.5 L402.5 520.9 L403.0 520.7 L403.5 521.0 L403.8 521.2 L404.0 521.4 L404.5 521.9 L405.0 522.4 L405.5 522.7 L406.0 522.2 L406.5 521.7 L407.0 521.4 L407.5 521.3 L408.0 521.2 L408.5 521.3 L409.0 521.4 L409.5 521.5 L410.0 521.6 L410.5 521.8 L411.0 521.7 L411.5 521.5 L412.0 521.3 L412.1 521.3 L412.5 521.2 L413.0 521.1 L413.5 520.9 L414.0 520.6 L414.5 520.4 L415.0 520.5 L415.5 520.7 L416.0 520.7 L416.5 520.5 L417.0 520.3 L417.5 520.4 L418.0 520.6 L418.5 520.8 L419.0 521.0 L419.5 521.1 L420.0 521.1 L420.5 521.0 L421.0 520.8 L421.5 520.5 L422.0 520.2 L422.5 519.9 L423.0 519.8 L423.5 519.7 L423.9 519.6 L424.0 519.6 L424.5 519.5 L425.0 519.4 L425.5 519.7 L426.0 520.0 L426.5 520.1 L427.0 520.0 L427.5 520.0 L428.0 520.0 L428.5 520.0 L429.0 519.9 L429.5 519.8 L430.0 519.6 L430.5 519.4 L431.0 519.0 L431.5 518.7 L432.0 518.6 L432.5 518.4 L433.0 518.6 L433.5 519.1 L434.0 519.5 L434.5 519.2 L435.0 518.8 L435.5 518.7 L436.0 519.1 L436.5 519.5 L437.0 519.0 L437.5 518.3 L438.0 517.7 L438.5 517.8 L439.0 518.0 L439.5 518.0 L440.0 518.0 L440.5 518.0 L441.0 518.1 L441.5 518.3 L442.0 518.4 L442.5 518.4 L443.0 518.5 L443.5 518.3 L444.0 518.0 L444.5 517.9 L445.0 518.0 L445.5 518.2 L446.0 518.1 L446.5 517.7 L447.0 517.3 L447.5 517.5 L447.7 517.5 L448.0 517.6 L448.5 517.6 L449.0 517.4 L449.5 517.3 L450.0 517.3 L450.5 517.4 L451.0 517.5 L451.5 517.5 L452.0 517.4 L452.5 517.5 L453.0 517.6 L453.5 517.8 L454.0 518.3 L454.5 518.8 L455.0 518.8 L455.5 517.9 L456.0 517.1 L456.5 517.1 L457.0 517.2 L457.5 517.4 L458.0 517.6 L458.5 517.7 L459.0 517.7 L459.5 517.6 L460.0 517.4 L460.5 517.6 L461.0 517.9 L461.5 517.8 L462.0 517.4 L462.5 516.9 L463.0 517.1 L463.5 517.4 L464.0 517.6 L464.5 517.3 L465.0 517.0 L465.5 517.1 L466.0 517.3 L466.5 517.6 L467.0 517.5 L467.5 517.4 L468.0 517.3 L468.5 517.3 L469.0 517.3 L469.5 517.2 L470.0 517.0 L470.5 516.9 L471.0 516.7 L471.5 516.4 L471.6 516.4 L472.0 516.4 L472.5 516.6 L473.0 516.7 L473.5 517.0 L474.0 517.3 L474.5 517.5 L475.0 517.3 L475.5 517.1 L476.0 517.3 L476.5 517.4 L477.0 517.5 L477.5 517.2 L478.0 516.8 L478.5 516.9 L479.0 517.2 L479.5 517.6 L480.0 517.7 L480.5 518.0 L481.0 517.7 L481.5 516.8 L482.0 515.9 L482.5 516.3 L483.0 517.1 L483.5 517.7 L484.0 518.2 L484.5 518.6 L485.0 518.4 L485.5 517.6 L486.0 516.9 L486.5 517.4 L487.0 517.9 L487.5 518.1 L488.0 517.9 L488.5 517.6 L489.0 517.8 L489.5 518.0 L490.0 518.2 L490.5 517.9 L490.7 517.8 L491.0 517.6 L491.5 517.5 L492.0 517.6 L492.5 517.8 L493.0 518.3 L493.5 518.9 L494.0 519.5 L494.2 519.8 L494.5 520.7 L495.0 524.1 L495.5 528.5 L496.0 532.4 L496.5 534.5 L496.6 534.5 L497.0 532.7 L497.5 527.5 L498.0 522.7 L498.4 521.4 L498.5 521.6 L499.0 522.7 L499.5 523.6 L500.0 524.9 L500.5 526.4 L501.0 527.9 L501.5 528.9 L502.0 529.4 L502.5 528.7 L503.0 526.9 L503.5 524.6 L504.0 522.0 L504.5 519.0 L505.0 516.1 L505.5 514.3 L505.6 514.4 L506.0 515.1 L506.5 516.3 L507.0 517.4 L507.5 518.3 L508.0 519.2 L508.5 520.3 L509.0 521.3 L509.5 522.2 L510.0 522.3 L510.5 522.3 L510.9 522.1 L511.0 522.1 L511.5 521.9 L512.0 521.7 L512.5 521.8 L513.0 521.8 L513.5 521.7 L514.0 521.4 L514.5 521.0 L515.0 521.0 L515.5 521.0 L515.8 521.1 L516.0 521.0 L516.5 520.3 L517.0 519.7 L517.5 519.1 L518.0 518.6 L518.5 518.2 L519.0 517.7 L519.5 517.2 L520.0 517.1 L520.3 517.2 L520.5 517.5 L521.0 518.6 L521.5 520.0 L522.0 521.7 L522.5 523.1 L523.0 524.2 L523.2 524.4 L523.5 523.9 L523.9 522.0 L524.0 520.7 L524.5 513.1 L524.7 511.7 L525.0 515.1 L525.4 520.4 L525.5 520.0 L526.0 513.9 L526.1 513.4 L526.5 516.8 L527.0 523.6 L527.1 523.9 L527.5 523.5 L527.7 523.2 L528.0 523.0 L528.5 523.1 L528.8 523.0 L529.0 521.3 L529.5 514.3 L529.6 513.1 L530.0 509.4 L530.2 508.6 L530.5 509.1 L531.0 511.4 L531.4 513.9 L531.5 514.7 L532.0 520.3 L532.2 521.7 L532.5 523.4 L532.9 524.4 L533.0 524.4 L533.5 523.9 L533.8 523.5 L534.0 521.5 L534.5 514.3 L534.6 514.0 L535.0 519.1 L535.4 524.1 L535.5 523.8 L536.0 515.2 L536.3 511.7 L536.5 511.7 L537.0 511.9 L537.4 512.2 L537.5 512.3 L537.9 514.2 L538.0 514.6 L538.5 522.4 L538.8 525.3 L539.0 523.5 L539.5 514.6 L539.6 514.3 L540.0 520.4 L540.4 525.9 L540.5 525.2 L541.0 513.8 L541.1 512.6 L541.5 516.8 L542.0 524.8 L542.1 525.0 L542.5 514.1 L542.6 512.5 L543.0 510.5 L543.1 510.4 L543.5 517.8 L544.0 529.2 L544.1 529.8 L544.5 520.4 L544.8 512.1 L545.0 509.0 L545.5 502.9 L545.9 501.1 L546.0 502.5 L546.5 517.0 L546.5 516.9 L547.0 508.1 L547.3 504.8 L547.5 506.3 L548.0 514.6 L548.2 516.1 L548.5 511.7 L548.9 504.4 L549.0 504.7 L549.5 510.6 L549.8 515.5 L550.0 527.9 L550.5 557.3 L551.0 536.6 L551.4 515.3 L551.5 514.2 L552.0 506.9 L552.3 505.3 L552.5 507.6 L553.0 516.9 L553.5 511.1 L553.9 506.6 L554.0 506.9 L554.5 515.2 L554.8 517.8 L555.0 515.5 L555.5 505.2 L555.7 503.6 L556.0 508.4 L556.5 518.2 L556.5 518.4 L557.0 520.0 L557.5 520.6 L558.0 519.9 L558.5 518.7 L559.0 517.7 L559.5 517.0 L560.0 516.2 L560.5 514.7 L561.0 513.1 L561.3 512.4 L561.5 512.1 L562.0 511.8 L562.5 511.6 L563.0 511.6 L563.5 522.7 L564.0 516.9 L564.5 508.6 L564.6 507.9 L565.0 512.3 L565.5 519.1 L565.5 519.1 L566.0 514.3 L566.3 512.0 L566.5 511.0 L567.0 509.2 L567.2 508.9 L567.5 508.8 L568.0 508.9 L568.0 509.0 L568.5 515.0 L569.0 521.8 L569.5 514.8 L569.7 512.5 L570.0 516.1 L570.5 525.5 L571.0 514.0 L571.3 507.9 L571.5 508.8 L572.0 516.7 L572.2 517.8 L572.5 514.9 L572.9 509.4 L573.0 508.9 L573.5 506.3 L573.9 505.6 L574.0 505.9 L574.5 510.6 L574.7 512.3 L575.0 515.9 L575.5 520.1 L575.5 520.1 L576.0 515.9 L576.4 512.3 L576.5 512.5 L577.0 518.5 L577.2 520.6 L577.5 521.9 L577.7 522.2 L578.0 521.7 L578.5 520.2 L578.9 518.7 L579.0 518.4 L579.5 514.9 L579.6 514.8 L580.0 518.5 L580.5 523.0 L580.5 522.9 L581.0 508.5 L581.3 500.3 L581.5 496.3 L582.0 489.7 L582.1 489.4 L582.5 497.4 L582.8 506.0 L583.0 511.9 L583.5 524.0 L583.6 524.2 L584.0 514.3 L584.4 505.4 L584.5 505.7 L585.0 513.1 L585.4 520.8 L585.5 522.8 L586.0 533.4 L586.2 535.1 L586.5 533.6 L587.0 525.8 L587.1 523.4 L587.5 513.2 L587.9 504.9 L588.0 504.6 L588.5 504.0 L588.8 503.8 L589.0 505.5 L589.5 518.5 L590.0 527.3 L590.5 520.1 L591.0 507.8 L591.2 504.9 L591.5 502.1 L592.0 498.8 L592.1 498.6 L592.5 498.4 L593.0 499.5 L593.0 499.5 L593.5 515.2 L593.9 525.9 L594.0 525.3 L594.5 515.1 L594.8 511.4 L595.0 513.1 L595.5 524.4 L595.6 526.3 L596.0 532.2 L596.5 537.5 L596.6 537.4 L597.0 529.7 L597.5 513.2 L597.8 508.4 L598.0 509.6 L598.5 519.0 L599.0 531.3 L599.5 538.7 L599.6 539.0 L600.0 521.3 L600.5 496.6 L601.0 497.4 L601.5 499.5 L601.7 500.6 L602.0 508.8 L602.5 524.6 L603.0 517.6 L603.5 506.8 L603.8 504.1 L604.0 510.6 L604.4 527.2 L604.5 527.0 L605.0 523.9 L605.2 523.0 L605.5 522.3 L606.0 520.2 L606.5 518.4 L607.0 516.8 L607.5 515.7 L608.0 514.7 L608.5 513.8 L609.0 513.0 L609.5 512.4 L610.0 512.2 L610.5 512.1 L611.0 512.8 L611.5 514.2 L612.0 516.1 L612.5 518.4 L613.0 520.1 L613.4 520.7 L613.5 520.6 L614.0 519.6 L614.5 517.7 L615.0 515.7 L615.5 514.4 L615.7 514.2 L616.0 514.3 L616.5 515.0 L617.0 516.1 L617.5 517.1 L618.0 518.1 L618.5 518.9 L619.0 519.5 L619.4 519.6 L619.5 519.6 L620.0 519.5 L620.5 519.1 L621.0 518.5 L621.5 518.0 L622.0 517.7 L622.5 517.2 L623.0 516.3 L623.5 515.4 L624.0 514.7 L624.5 514.4 L625.0 514.2 L625.4 514.0 L625.5 514.0 L626.0 514.0 L626.5 514.5 L627.0 515.4 L627.5 516.4 L628.0 517.5 L628.5 518.4 L629.0 519.1 L629.1 519.0 L629.5 518.9 L630.0 518.8 L630.5 518.5 L631.0 518.2 L631.5 517.9 L632.0 518.1 L632.5 518.3 L633.0 518.6 L633.5 518.5 L634.0 518.5 L634.5 518.3 L635.0 518.2 L635.5 518.0 L636.0 518.2 L636.5 518.5 L636.9 518.6 L637.0 518.6 L637.5 518.5 L638.0 518.5 L638.5 518.6 L639.0 518.7 L639.5 518.9 L640.0 519.2 L640.5 519.5 L641.0 519.6 L641.5 519.5 L642.0 519.4 L642.5 519.8 L643.0 520.3 L643.5 520.5 L644.0 520.4 L644.5 520.2 L645.0 520.3 L645.5 520.3 L646.0 520.4 L646.2 520.5 L646.5 520.7 L647.0 520.8 L647.5 520.5 L648.0 520.0 L648.5 519.5 L649.0 519.0 L649.5 518.6 L650.0 518.4 L650.4 518.4 L650.5 518.4 L651.0 518.5 L651.5 518.6 L652.0 518.7 L652.5 518.8 L653.0 518.6 L653.5 518.4 L654.0 518.6 L654.5 519.1 L655.0 519.6 L655.5 519.7 L656.0 519.7 L656.5 519.7 L657.0 519.6 L657.5 519.5 L658.0 519.6 L658.5 519.8 L659.0 520.0 L659.5 520.4 L660.0 520.7 L660.5 520.7 L660.6 520.6 L661.0 520.3 L661.5 519.8 L662.0 520.2 L662.5 520.6 L663.0 520.4 L663.5 519.6 L664.0 518.8 L664.5 518.7 L665.0 518.8 L665.5 518.8 L665.6 518.7 L666.0 518.4 L666.5 518.3 L667.0 518.9 L667.5 520.0 L668.0 521.2 L668.5 521.9 L669.0 522.6 L669.5 523.3 L670.0 523.9 L670.5 524.4 L670.7 524.4 L671.0 524.3 L671.5 523.9 L672.0 523.3 L672.5 522.6 L673.0 521.9 L673.5 521.6 L674.0 521.8 L674.1 521.9 L674.5 522.4 L675.0 522.5 L675.5 522.8 L676.0 523.1 L676.5 524.1 L677.0 525.2 L677.5 526.4 L678.0 528.1 L678.5 530.6 L679.0 533.7 L679.5 537.2 L680.0 540.8 L680.5 545.1 L681.0 550.5 L681.5 556.1 L682.0 561.3 L682.5 565.5 L682.6 566.1 L683.0 568.5 L683.5 571.3 L684.0 573.0 L684.2 573.2 L684.5 572.8 L685.0 570.7 L685.5 568.6 L685.9 567.8 L686.0 567.8 L686.5 568.5 L687.0 569.3 L687.3 569.5 L687.5 568.8 L688.0 563.1 L688.5 557.7 L689.0 555.1 L689.5 552.8 L690.0 550.9 L690.5 549.7 L691.0 549.2 L691.5 549.6 L692.0 550.5 L692.5 551.4 L693.0 551.8 L693.5 550.5 L694.0 547.5 L694.5 543.5 L695.0 539.7 L695.5 537.1 L695.7 536.6 L696.0 536.2 L696.5 535.6 L697.0 535.2 L697.5 534.9 L698.0 534.5 L698.5 534.1 L698.6 534.0 L699.0 533.5 L699.5 532.8 L700.0 532.0 L700.5 531.1 L701.0 530.4 L701.5 529.7 L702.0 529.3 L702.5 529.0 L703.0 528.7 L703.5 528.4 L704.0 528.1 L704.5 527.9 L705.0 527.7 L705.5 527.5 L706.0 527.4 L706.5 527.3 L707.0 527.3 L707.1 527.3 L707.5 527.6 L708.0 528.6 L708.5 530.1 L709.0 531.9 L709.5 533.7 L709.6 534.0 L710.0 535.3 L710.5 537.0 L711.0 538.9 L711.5 541.0 L712.0 543.6 L712.1 544.2 L712.5 547.8 L713.0 554.1 L713.5 559.1 L713.8 560.2 L714.0 559.9 L714.5 556.7 L715.0 551.5 L715.5 546.2 L716.0 542.5 L716.5 540.4 L717.0 538.6 L717.5 537.2 L718.0 535.9 L718.1 535.7 L718.5 534.8 L719.0 533.7 L719.5 532.6 L720.0 531.6 L720.5 530.9 L721.0 530.4 L721.4 530.3 L721.5 530.3 L722.0 530.4 L722.5 530.5 L723.0 530.7 L723.5 531.0 L724.0 531.4 L724.5 531.8 L725.0 532.3 L725.5 532.8 L726.0 533.4 L726.5 534.0 L727.0 535.0 L727.5 536.6 L728.0 538.6 L728.5 540.8 L729.0 542.9 L729.5 544.8 L729.9 545.9 L730.0 546.1 L730.5 547.2 L731.0 548.1 L731.5 549.0 L732.0 549.7 L732.5 550.5 L733.0 551.3 L733.3 551.8 L733.5 552.2 L734.0 553.2 L734.5 554.3 L735.0 555.3 L735.5 556.2 L736.0 556.7 L736.3 556.8 L736.5 556.7 L737.0 555.8 L737.5 554.1 L738.0 552.1 L738.5 550.2 L739.0 548.8 L739.2 548.4 L739.5 548.0 L740.0 547.3 L740.5 546.6 L741.0 546.2 L741.5 545.9 L741.7 545.9 L742.0 546.1 L742.5 547.0 L743.0 548.4 L743.5 550.1 L744.0 551.5 L744.5 552.4 L744.8 552.6 L745.0 552.6 L745.5 552.2 L746.0 551.5 L746.5 550.7 L747.0 549.8 L747.5 549.0 L747.6 548.9 L748.0 548.4 L748.5 547.7 L749.0 547.0 L749.5 546.2 L750.0 545.5 L750.5 544.9 L751.0 544.3 L751.5 543.8 L752.0 543.5 L752.5 543.3 L752.7 543.3 L753.0 543.4 L753.5 544.3 L754.0 545.6 L754.5 547.1 L755.0 548.6 L755.2 549.2 L755.5 550.1 L756.0 552.0 L756.5 554.1 L757.0 556.1 L757.5 557.8 L758.0 558.8 L758.3 559.0 L758.5 559.0 L759.0 558.5 L759.5 557.8 L760.0 556.8 L760.5 555.7 L761.0 554.7 L761.2 554.3 L761.5 553.7 L762.0 552.5 L762.5 551.3 L763.0 550.0 L763.5 548.9 L764.0 548.2 L764.5 547.9 L765.0 547.9 L765.5 548.0 L766.0 548.0 L766.5 548.1 L767.0 548.2 L767.5 548.3 L768.0 548.4 L768.5 548.4 L768.8 548.4 L769.0 548.4 L769.5 548.3 L770.0 548.1 L770.5 547.8 L771.0 547.5 L771.5 547.1 L772.0 546.7 L772.5 546.2 L773.0 545.7 L773.5 545.3 L773.8 545.0 L774.0 544.8 L774.5 544.3 L775.0 543.7 L775.5 543.1 L776.0 542.5 L776.5 541.8 L777.0 541.1 L777.2 540.8 L777.5 540.3 L778.0 539.3 L778.5 538.2 L779.0 537.3 L779.5 536.7 L779.8 536.6 L780.0 536.8 L780.5 538.4 L781.0 541.0 L781.5 543.8 L782.0 546.0 L782.4 546.6 L782.5 546.6 L783.0 545.5 L783.5 543.5 L784.0 541.2 L784.5 539.2 L785.0 538.2 L785.5 538.0 L786.0 537.8 L786.5 537.6 L787.0 537.4 L787.5 537.2 L788.0 537.1 L788.5 536.9 L789.0 536.8 L789.5 536.7 L790.0 536.6 L790.5 536.6 L791.0 536.5 L791.5 536.5 L792.0 536.4 L792.5 536.4 L793.0 536.4 L793.2 536.4 L793.5 536.4 L794.0 536.6 L794.5 536.9 L795.0 537.3 L795.5 537.9 L796.0 538.5 L796.5 539.2 L797.0 540.0 L797.5 540.9 L797.8 541.4 L798.0 541.8 L798.5 543.3 L799.0 545.3 L799.5 547.4 L800.0 549.5 L800.3 550.7 L800.5 551.5 L801.0 553.7 L801.5 556.0 L802.0 558.2 L802.5 559.9 L803.0 560.8 L803.2 560.9 L803.5 560.6 L804.0 559.2 L804.5 556.9 L805.0 554.3 L805.5 551.7 L806.0 549.5 L806.5 548.3 L806.7 548.2 L807.0 548.6 L807.5 550.7 L808.0 553.9 L808.4 556.7 L808.5 557.5 L809.0 562.7 L809.5 569.5 L810.0 576.7 L810.4 582.0 L810.5 583.3 L811.0 590.0 L811.5 596.6 L812.0 601.6 L812.1 602.3 L812.5 604.7 L813.0 607.2 L813.5 608.2 L814.0 607.9 L814.5 607.1 L815.0 606.1 L815.5 604.9 L816.0 603.8 L816.5 602.9 L817.0 602.3 L817.2 602.3 L817.5 602.5 L818.0 603.5 L818.5 604.9 L819.0 606.3 L819.5 607.2 L819.7 607.3 L820.0 607.2 L820.5 606.9 L821.0 606.4 L821.5 606.0 L822.0 605.7 L822.3 605.6 L822.5 605.6 L823.0 605.7 L823.5 605.9 L824.0 606.3 L824.5 606.8 L825.0 607.3 L825.5 608.1 L826.0 608.9 L826.5 609.9 L827.0 611.0 L827.5 612.2 L828.0 613.5 L828.2 614.1 L828.5 615.7 L829.0 620.9 L829.5 628.1 L830.0 635.7 L830.4 641.1 L830.5 642.4 L831.0 650.0 L831.5 656.7 L831.9 658.9 L832.0 658.8 L832.5 655.1 L833.0 648.5 L833.5 642.1 L833.6 641.1 L834.0 636.9 L834.5 631.9 L834.9 630.2 L835.0 630.2 L835.5 631.8 L836.0 635.1 L836.5 639.3 L837.0 643.8 L837.5 647.9 L838.0 651.8 L838.5 655.9 L839.0 660.2 L839.5 664.4 L840.0 668.5 L840.5 672.3 L840.9 675.0 L841.0 675.6 L841.5 679.0 L842.0 682.5 L842.5 685.8 L843.0 688.4 L843.5 690.1 L843.9 690.6 L844.0 690.6 L844.5 689.5 L845.0 687.5 L845.5 685.4 L846.0 684.0 L846.5 683.3 L847.0 682.6 L847.5 682.1 L848.0 681.7 L848.5 681.5 L848.6 681.5 L849.0 681.7 L849.5 682.4 L850.0 683.4 L850.5 684.6 L851.0 685.7 L851.5 686.6 L852.0 687.1 L852.2 687.2 L852.5 686.5 L853.0 683.0 L853.5 678.3 L854.0 671.9 L854.5 663.4 L855.0 654.5 L855.2 651.3 L855.5 646.5 L856.0 638.1 L856.5 630.4 L856.9 625.9 L857.0 625.0 L857.5 620.5 L858.0 616.4 L858.5 613.1 L859.0 610.8 L859.5 609.9 L860.0 611.5 L860.5 615.4 L861.0 620.3 L861.5 624.8 L862.0 627.6 L862.5 629.0 L863.0 630.3 L863.5 631.2 L864.0 631.8 L864.2 631.8 L864.5 631.2 L865.0 628.2 L865.5 623.8 L866.0 619.1 L866.2 617.5 L866.5 615.1 L867.0 611.0 L867.5 606.9 L867.9 604.0 L868.0 603.3 L868.5 600.0 L869.0 596.7 L869.5 593.5 L870.0 590.5 L870.5 587.7 L871.0 585.4 L871.5 583.5 L872.0 582.2 L872.1 582.0 L872.5 581.4 L873.0 580.7 L873.5 580.2 L874.0 579.8 L874.5 579.4 L875.0 579.1 L875.5 578.7 L876.0 578.3 L876.5 577.8 L877.0 577.2 L877.2 576.9 L877.5 576.4 L878.0 575.2 L878.5 573.7 L879.0 572.2 L879.5 570.7 L879.7 570.1 L880.0 569.2 L880.5 567.5 L881.0 565.6 L881.5 563.7 L882.0 561.7 L882.5 559.8 L883.0 558.2 L883.5 556.7 L884.0 555.7 L884.5 555.1 L884.8 555.0 L885.0 555.0 L885.5 555.5 L886.0 556.4 L886.5 557.5 L886.8 558.3 L887.0 559.0 L887.5 562.0 L888.0 566.4 L888.5 571.6 L889.0 577.0 L889.5 581.9 L890.0 585.6 L890.5 587.7 L890.7 587.9 L891.0 587.7 L891.5 586.8 L892.0 585.2 L892.5 583.2 L893.0 581.0 L893.5 578.9 L894.0 577.2 L894.1 576.9 L894.5 575.7 L895.0 574.2 L895.5 572.6 L896.0 571.0 L896.5 569.4 L897.0 567.9 L897.5 566.5 L898.0 565.4 L898.5 564.4 L899.0 563.8 L899.5 563.4 L899.7 563.4 L900.0 563.7 L900.5 564.9 L901.0 566.4 L901.5 567.5 L901.7 567.6 L902.0 567.4 L902.5 566.1 L903.0 564.0 L903.5 561.7 L904.0 559.4 L904.5 557.6 L905.0 556.7 L905.1 556.7 L905.5 557.1 L906.0 558.4 L906.5 560.1 L907.0 561.9 L907.5 563.2 L907.6 563.4 L908.0 564.0 L908.5 564.7 L909.0 565.4 L909.5 566.0 L910.0 566.4 L910.5 566.7 L911.0 566.8 L911.5 566.8 L912.0 566.8 L912.5 566.8 L913.0 566.8 L913.5 566.8 L913.6 566.8 L914.0 567.7 L914.5 570.8 L915.0 575.2 L915.5 579.7 L916.0 583.5 L916.5 585.3 L916.6 585.4 L917.0 584.9 L917.5 583.1 L918.0 580.7 L918.5 578.0 L919.0 575.7 L919.5 574.4 L920.0 573.7 L920.5 573.1 L921.0 572.5 L921.5 572.1 L922.0 571.7 L922.5 571.3 L923.0 571.1 L923.5 571.0 L923.7 571.0 L924.0 571.1 L924.5 571.4 L925.0 572.1 L925.5 573.0 L926.0 574.1 L926.5 575.3 L927.0 576.6 L927.1 576.9 L927.5 578.4 L928.0 581.5 L928.5 585.3 L929.0 589.7 L929.5 594.0 L930.0 597.9 L930.5 600.9 L931.0 602.8 L931.3 603.1 L931.5 603.0 L932.0 601.9 L932.5 599.9 L933.0 597.5 L933.5 595.0 L934.0 592.9 L934.5 591.5 L934.7 591.3 L935.0 591.1 L935.5 590.9 L936.0 590.6 L936.5 590.5 L937.0 590.4 L937.2 590.4 L937.5 590.7 L938.0 592.0 L938.5 593.3 L938.9 593.8 L939.0 593.5 L939.5 586.8 L940.0 578.2 L940.3 576.1 L940.5 576.8 L941.0 583.1 L941.5 591.6 L942.0 597.2 L942.5 598.9 L943.0 600.2 L943.1 600.6 L943.5 602.4 L944.0 605.2 L944.5 608.5 L944.8 610.7"/>
<g class="ax">
<line x1="70.1" y1="42.4" x2="70.1" y2="704.8"/>
<line x1="69" y1="703.85" x2="959.1" y2="703.85"/>
<line x1="69.80" y1="703.85" x2="69.80" y2="716.8"/>
<line x1="174.30" y1="703.85" x2="174.30" y2="716.8"/>
<line x1="278.80" y1="703.85" x2="278.80" y2="716.8"/>
<line x1="383.30" y1="703.85" x2="383.30" y2="716.8"/>
<line x1="487.80" y1="703.85" x2="487.80" y2="716.8"/>
<line x1="592.30" y1="703.85" x2="592.30" y2="716.8"/>
<line x1="696.80" y1="703.85" x2="696.80" y2="716.8"/>
<line x1="801.30" y1="703.85" x2="801.30" y2="716.8"/>
<line x1="905.80" y1="703.85" x2="905.80" y2="716.8"/>
<line x1="122.05" y1="703.85" x2="122.05" y2="709.9"/>
<line x1="226.55" y1="703.85" x2="226.55" y2="709.9"/>
<line x1="331.05" y1="703.85" x2="331.05" y2="709.9"/>
<line x1="435.55" y1="703.85" x2="435.55" y2="709.9"/>
<line x1="540.05" y1="703.85" x2="540.05" y2="709.9"/>
<line x1="644.55" y1="703.85" x2="644.55" y2="709.9"/>
<line x1="749.05" y1="703.85" x2="749.05" y2="709.9"/>
<line x1="853.55" y1="703.85" x2="853.55" y2="709.9"/>
<line x1="958.05" y1="703.85" x2="958.05" y2="709.9"/>
</g>
<g class="tl">
<text x="69.80" y="746.4" text-anchor="middle">4000</text>
<text x="174.30" y="746.4" text-anchor="middle">3600</text>
<text x="278.80" y="746.4" text-anchor="middle">3200</text>
<text x="383.30" y="746.4" text-anchor="middle">2800</text>
<text x="487.80" y="746.4" text-anchor="middle">2400</text>
<text x="592.30" y="746.4" text-anchor="middle">2000</text>
<text x="696.80" y="746.4" text-anchor="middle">1600</text>
<text x="801.30" y="746.4" text-anchor="middle">1200</text>
<text x="905.80" y="746.4" text-anchor="middle">800</text>
</g>
<g class="b" font-size="30.1">
<text transform="translate(427.2,56.2) scale(1,1.03)" fill="#ff0000" stroke="#ff0000">RSP</text>
<text transform="translate(399.6,203.1) scale(1,1.03)" fill="#404040" stroke="#404040">RM-</text>
<text transform="translate(456.0,203.6) skewX(-3) scale(1.155,1)" style="font-family:'Liberation Serif',serif;font-weight:normal;font-size:28.9px;stroke-width:0.45" fill="#404040" stroke="#404040">β</text>
<text transform="translate(473.3,203.1) scale(1,1.03)" fill="#404040" stroke="#404040">-CD</text>
<text transform="translate(428.8,356.3) scale(1,1.03)" fill="#0000a0" stroke="#0000a0">PM</text>
<text transform="translate(419.5,504.1) scale(1,1.03)" fill="#800000" stroke="#800000">KP</text>
</g>
<text class="b" transform="translate(48.6,494.5) rotate(-90) scale(1,1.035)" font-size="30.77" fill="#000" stroke="#000">Transmittance (a.u.)</text>
<text class="b" transform="translate(325.7,780.9) scale(1,1.045)" font-size="30.75" fill="#000" stroke="#000">Wavenumber (cm<tspan font-size="18.5" dy="-17.5" dx="0.8" stroke-width="0.15">-1</tspan><tspan dy="17.5" dx="0">)</tspan></text>
</svg>
</body></html>
